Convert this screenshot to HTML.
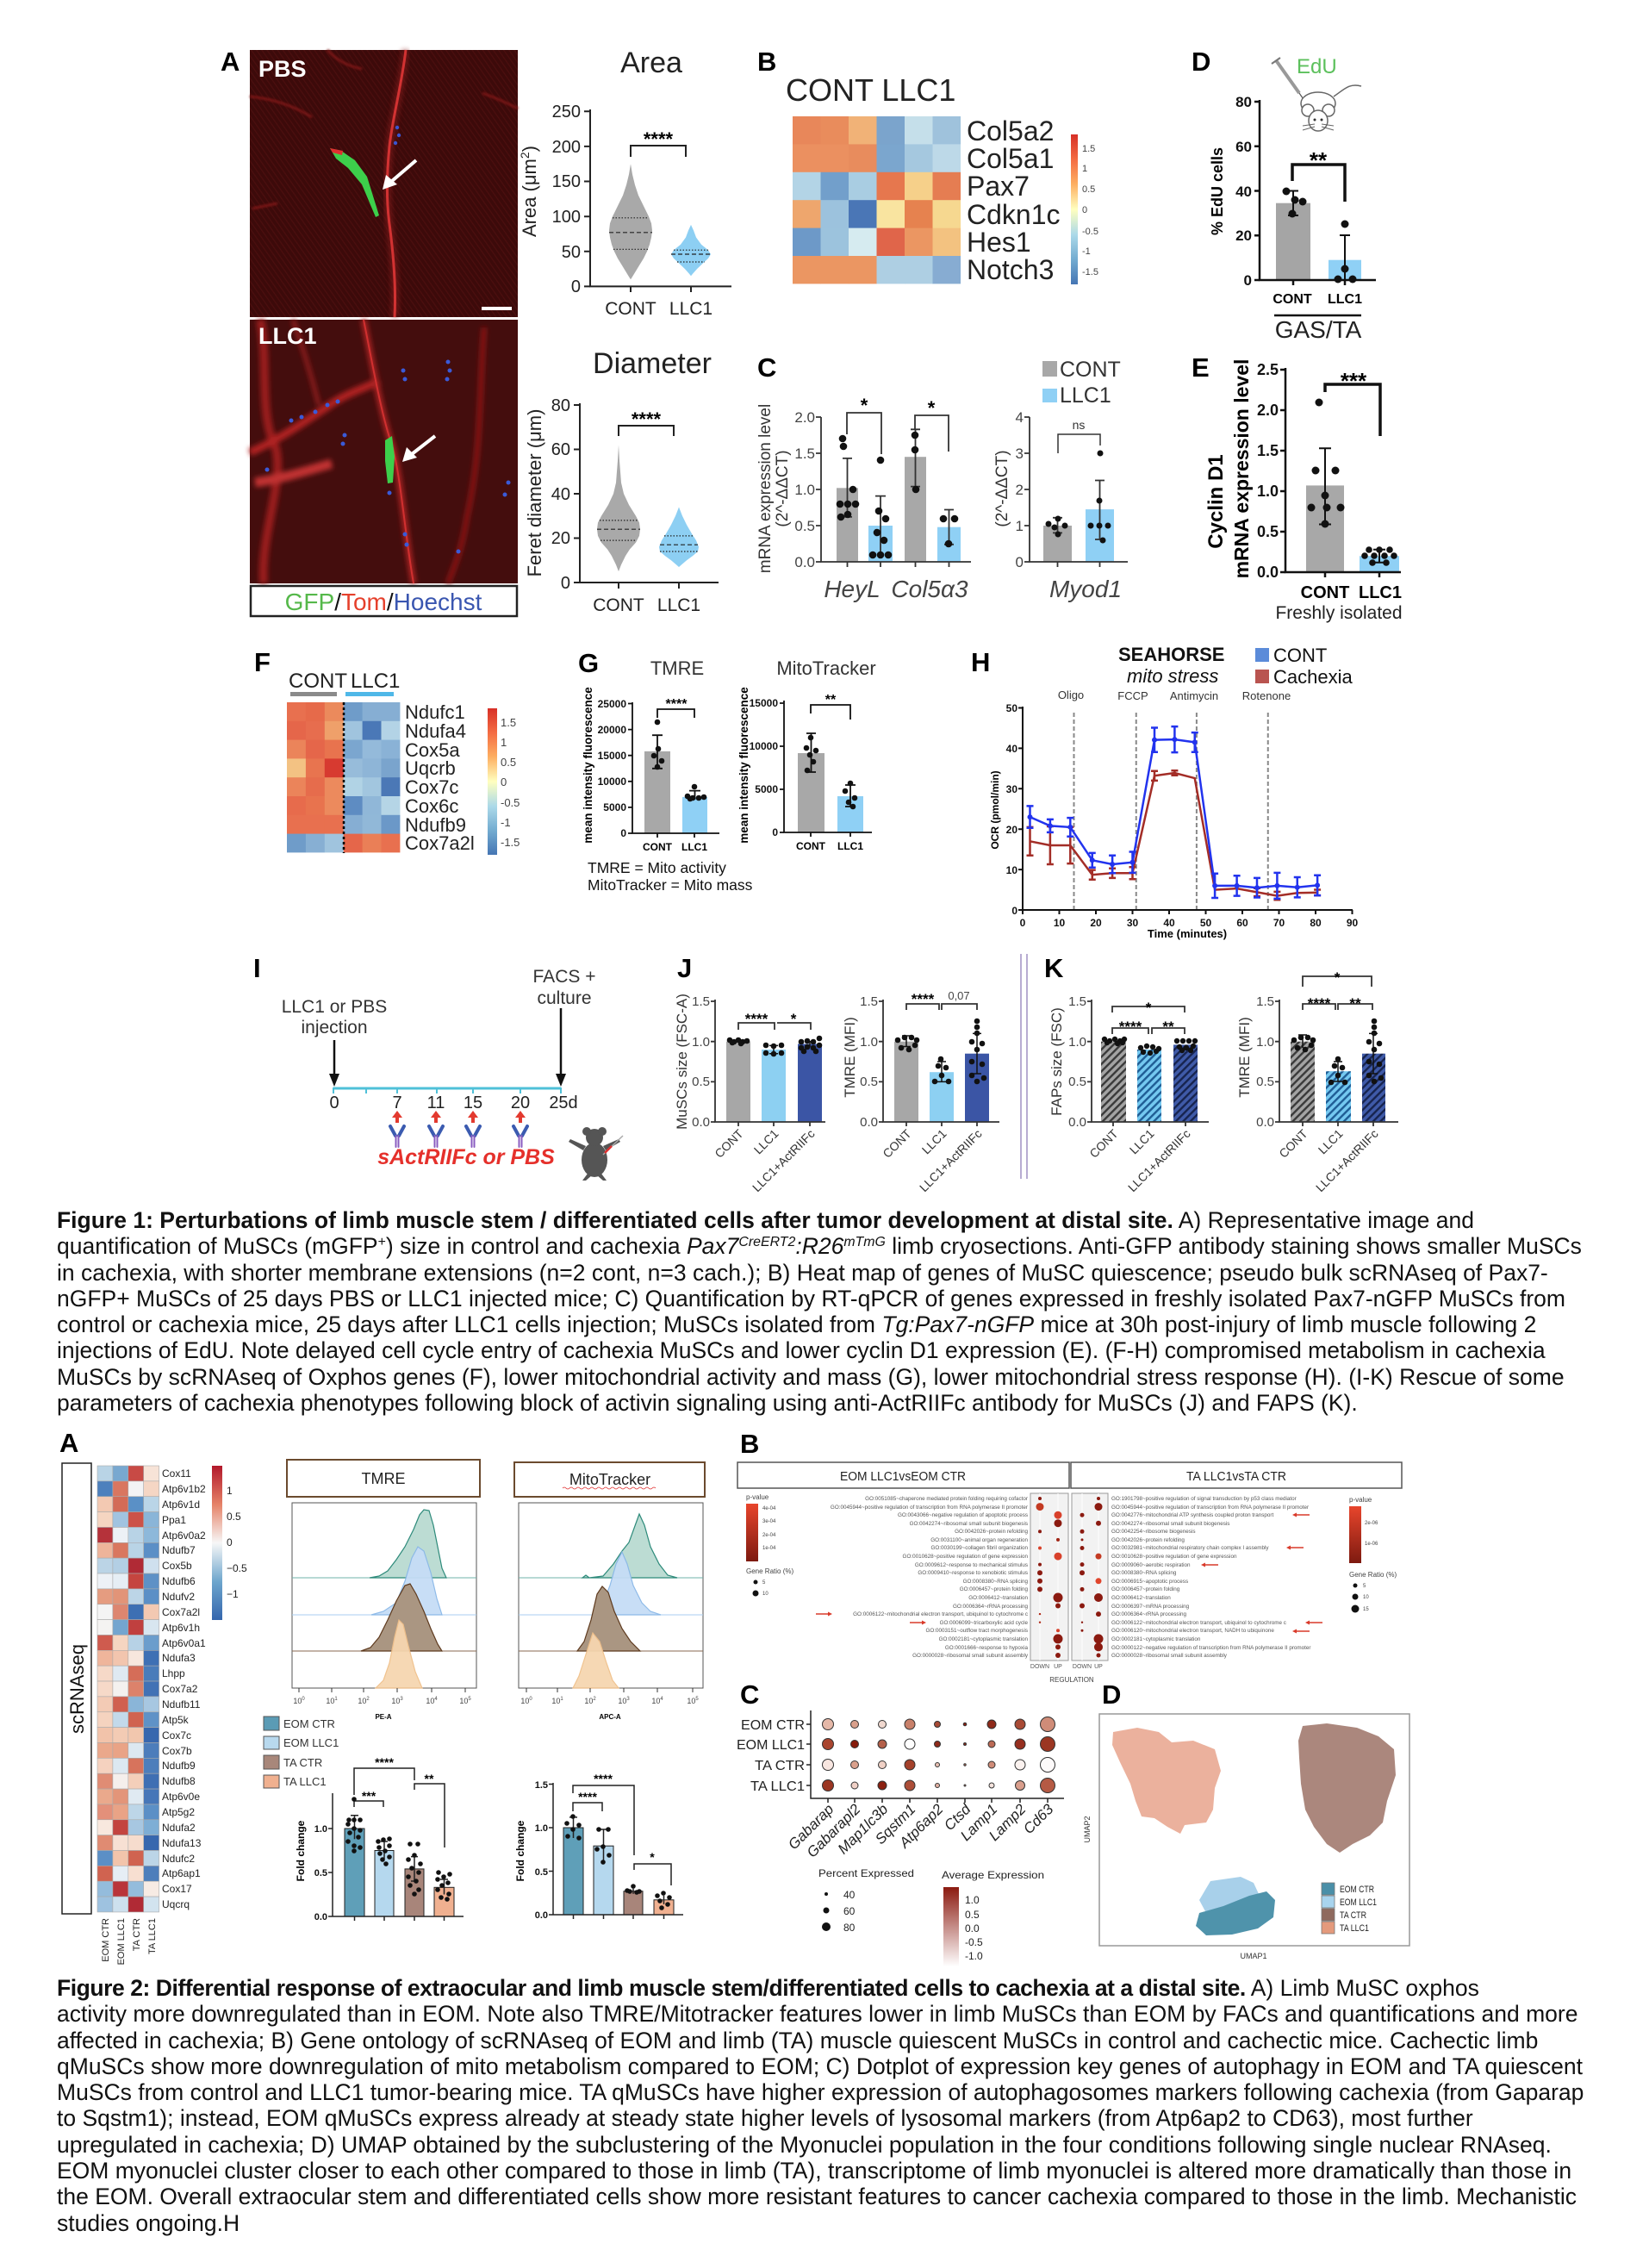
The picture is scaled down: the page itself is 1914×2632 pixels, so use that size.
<!DOCTYPE html>
<html><head><meta charset="utf-8">
<style>
html,body{margin:0;padding:0;background:#fff;}
#pg{position:relative;width:1914px;height:2632px;overflow:hidden;background:#fff;font-family:"Liberation Sans",Arial,sans-serif;}
svg{position:absolute;left:0;top:0;}
.cap{position:absolute;left:66px;font-size:26.5px;line-height:30.3px;color:#111;white-space:pre;font-family:"Liberation Sans",Arial,sans-serif;}
.sp{font-size:0.6em;position:relative;top:-0.6em;line-height:0;}
.b2{font-weight:bold;letter-spacing:-0.45px;}
</style></head><body><div id="pg">
<svg width="1914" height="2632" viewBox="0 0 1914 2632" font-family="Liberation Sans, Arial, sans-serif">
<defs>
<pattern id="stri" patternUnits="userSpaceOnUse" width="5" height="5" patternTransform="rotate(-35)"><rect width="5" height="5" fill="#3c0a0a"/><rect width="1.2" height="5" fill="#4c0f0f"/></pattern>
<filter id="bl" x="-20%" y="-20%" width="140%" height="140%"><feGaussianBlur stdDeviation="3"/></filter>
<filter id="bl2"><feGaussianBlur stdDeviation="1.2"/></filter>
<linearGradient id="cbB" x1="0" y1="0" x2="0" y2="1"><stop offset="0" stop-color="#d73027"/><stop offset="0.17" stop-color="#f46d43"/><stop offset="0.33" stop-color="#fdae61"/><stop offset="0.5" stop-color="#ffffbf"/><stop offset="0.67" stop-color="#abd9e9"/><stop offset="0.83" stop-color="#74add1"/><stop offset="1" stop-color="#4575b4"/></linearGradient>
<linearGradient id="cbA" x1="0" y1="0" x2="0" y2="1"><stop offset="0" stop-color="#b2182b"/><stop offset="0.25" stop-color="#e58267"/><stop offset="0.5" stop-color="#f7f7f7"/><stop offset="0.75" stop-color="#6ea6cd"/><stop offset="1" stop-color="#3466ad"/></linearGradient>
<linearGradient id="cbP" x1="0" y1="0" x2="0" y2="1"><stop offset="0" stop-color="#e8452c"/><stop offset="1" stop-color="#7d1a10"/></linearGradient>
<linearGradient id="cbC" x1="0" y1="0" x2="0" y2="1"><stop offset="0" stop-color="#8b1a10"/><stop offset="1" stop-color="#ffffff"/></linearGradient>
<pattern id="hg" patternUnits="userSpaceOnUse" width="6" height="6" patternTransform="rotate(45)"><rect width="6" height="6" fill="#a3a3a3"/><rect width="2.4" height="6" fill="#3a3a3a"/></pattern>
<pattern id="hl" patternUnits="userSpaceOnUse" width="6" height="6" patternTransform="rotate(45)"><rect width="6" height="6" fill="#74c8f0"/><rect width="2.4" height="6" fill="#1f5d95"/></pattern>
<pattern id="hd" patternUnits="userSpaceOnUse" width="6" height="6" patternTransform="rotate(45)"><rect width="6" height="6" fill="#3f5aa8"/><rect width="2.4" height="6" fill="#17244f"/></pattern>
</defs>

<!-- ================= FIGURE 1 ================= -->
<text x="256" y="82" font-size="31" font-weight="bold">A</text>
<rect x="290" y="58" width="311" height="310" fill="url(#stri)"/>
<path d="M471,58 C466,100 455,140 452,170 C449,200 448,230 452,260 C456,290 460,330 458,368" stroke="#8a1a1a" stroke-width="9" fill="none" opacity="0.6" filter="url(#bl)"/>
<path d="M471,58 C466,100 455,140 452,170 C449,200 448,230 452,260 C456,290 460,330 458,368" stroke="#d23232" stroke-width="3" fill="none"/>
<path d="M290,112 Q330,116 362,136 M560,108 Q582,116 601,126 M293,242 L322,236 M380,58 Q395,75 420,80" stroke="#7a1818" stroke-width="3" fill="none" filter="url(#bl2)"/>
<circle cx="461" cy="148" r="2.2" fill="#3a55d0"/><circle cx="463" cy="157" r="2.2" fill="#3a55d0"/><circle cx="459" cy="166" r="2.2" fill="#3a55d0"/>
<polygon points="383,172 396,175 412,186 426,205 440,250 436,252 420,214 404,195 390,184" fill="#3dcf4b"/>
<polygon points="383,172 398,175 397,180 386,177" fill="#e03030"/>
<line x1="483" y1="186" x2="455" y2="210" stroke="#fff" stroke-width="4"/>
<polygon points="444,220 448,203 461,214" fill="#fff"/>
<rect x="559" y="356" width="35" height="4" fill="#fff"/>
<text x="300" y="89" font-size="27" font-weight="bold" fill="#fff">PBS</text>

<rect x="290" y="371" width="311" height="306" fill="#440d0d"/>
<g filter="url(#bl)" fill="none">
<path d="M302,371 C312,420 300,480 320,520 C330,560 302,620 306,677" stroke="#9a1c1c" stroke-width="10"/>
<path d="M290,525 C320,512 350,492 380,472 C400,457 420,452 440,442" stroke="#b02424" stroke-width="9"/>
<path d="M422,371 C432,420 442,480 456,520 C466,560 470,620 480,677" stroke="#a82222" stroke-width="7"/>
<path d="M562,380 C556,450 560,520 542,600 C536,640 526,660 520,677" stroke="#8a1818" stroke-width="6"/>
<path d="M296,560 C330,555 360,545 385,538" stroke="#c03030" stroke-width="11"/>
<path d="M340,371 C350,400 360,430 370,470" stroke="#901c1c" stroke-width="5"/>
</g>
<path d="M422,371 C432,420 442,480 456,520 C466,560 470,620 480,677" stroke="#d03030" stroke-width="2" fill="none"/>
<g fill="#3a5ad8">
<circle cx="380" cy="470" r="2.5"/><circle cx="392" cy="466" r="2.5"/><circle cx="366" cy="478" r="2.5"/><circle cx="350" cy="484" r="2.5"/><circle cx="338" cy="488" r="2.5"/>
<circle cx="520" cy="420" r="2.5"/><circle cx="522" cy="430" r="2.5"/><circle cx="519" cy="440" r="2.5"/><circle cx="468" cy="430" r="2.5"/><circle cx="470" cy="440" r="2.5"/>
<circle cx="590" cy="560" r="2.5"/><circle cx="586" cy="574" r="2.5"/><circle cx="532" cy="640" r="2.5"/><circle cx="470" cy="620" r="2.5"/><circle cx="472" cy="632" r="2.5"/>
<circle cx="400" cy="505" r="2.5"/><circle cx="398" cy="515" r="2.5"/><circle cx="310" cy="545" r="2.5"/><circle cx="452" cy="572" r="2.5"/>
</g>
<polygon points="447,511 455,506 458,530 456,560 450,561 447,535" fill="#3dcf4b"/>
<line x1="505" y1="506" x2="478" y2="527" stroke="#fff" stroke-width="4"/>
<polygon points="467,536 472,519 484,531" fill="#fff"/>
<text x="300" y="399" font-size="27" font-weight="bold" fill="#fff">LLC1</text>
<rect x="291" y="680" width="309" height="35" fill="#fff" stroke="#222" stroke-width="2.5"/>
<text x="445" y="708" font-size="28" text-anchor="middle"><tspan fill="#55b84a">GFP</tspan><tspan fill="#111">/</tspan><tspan fill="#e5402c">Tom</tspan><tspan fill="#111">/</tspan><tspan fill="#3a56b0">Hoechst</tspan></text>

<!-- Area chart -->
<text x="756" y="84" font-size="34" text-anchor="middle" fill="#222">Area</text>
<g stroke="#222" stroke-width="2" fill="none">
<path d="M685,127 V332.4 H849"/>
<path d="M678,129.3 H685 M678,169.9 H685 M678,210.5 H685 M678,251.2 H685 M678,291.8 H685 M678,332.4 H685 M732,332 V339 M802,332 V339"/>
</g>
<g font-size="20" text-anchor="end" fill="#222">
<text x="674" y="136">250</text><text x="674" y="177">200</text><text x="674" y="217">150</text><text x="674" y="258">100</text><text x="674" y="299">50</text><text x="674" y="339">0</text>
</g>
<text x="732" y="365" font-size="21" text-anchor="middle" fill="#222">CONT</text>
<text x="802" y="365" font-size="21" text-anchor="middle" fill="#222">LLC1</text>
<text x="630" y="230" font-size="22" text-anchor="middle" fill="#222" transform="rotate(-90 622 230)">Area (μm<tspan font-size="14" dy="-8">2</tspan><tspan dy="8">)</tspan></text>
<path d="M732,182 V169 H796 V182" stroke="#222" stroke-width="2" fill="none"/>
<text x="764" y="169" font-size="22" font-weight="bold" text-anchor="middle">****</text>
<path d="M732,190.2 L734,202.4 L737,214.6 L741,226.8 L747,239 L753,251.2 L756,259.3 L757,267.4 L756,275.5 L754,283.7 L751,291.8 L747,299.9 L742,308 L737,316.2 L733,322.7 L732,324.3 L731,322.7 L727,316.2 L722,308 L717,299.9 L713,291.8 L710,283.7 L708,275.5 L707,267.4 L708,259.3 L711,251.2 L717,239 L723,226.8 L727,214.6 L730,202.4 Z" fill="#a9a9a9"/>
<path d="M802,260.9 L805,267.4 L808,275.5 L814,283.7 L822,290.2 L825,295 L822,299.9 L815,306.4 L809,312.1 L804,317.8 L802,320.2 L800,317.8 L795,312.1 L789,306.4 L782,299.9 L779,295 L782,290.2 L790,283.7 L796,275.5 L799,267.4 Z" fill="#8dcff3"/>
<g stroke="#222" stroke-width="1.2" fill="none">
<path d="M711,252.8 H753 M712,289.3 H752 M782,290.2 H822 M786,304 H818" stroke-dasharray="1.5,2"/>
<path d="M707,269.8 H757 M779,295 H825" stroke-dasharray="5,3"/>
</g>

<!-- Diameter chart -->
<text x="757" y="433" font-size="34" text-anchor="middle" fill="#222">Diameter</text>
<g stroke="#222" stroke-width="2" fill="none">
<path d="M673,468 V676 H834"/>
<path d="M666,470 H673 M666,521.5 H673 M666,573 H673 M666,624.5 H673 M666,676 H673 M718,676 V683 M788,676 V683"/>
</g>
<g font-size="20" text-anchor="end" fill="#222">
<text x="662" y="477">80</text><text x="662" y="528">60</text><text x="662" y="580">40</text><text x="662" y="631">20</text><text x="662" y="683">0</text>
</g>
<text x="718" y="709" font-size="21" text-anchor="middle" fill="#222">CONT</text>
<text x="788" y="709" font-size="21" text-anchor="middle" fill="#222">LLC1</text>
<text x="621" y="579" font-size="22" text-anchor="middle" fill="#222" transform="rotate(-90 621 572)">Feret diameter (μm)</text>
<path d="M718,506 V494 H782 V506" stroke="#222" stroke-width="2" fill="none"/>
<text x="750" y="494" font-size="22" font-weight="bold" text-anchor="middle">****</text>
<path d="M718,516.4 L719,534.4 L721,560.1 L724,573 L730,585.9 L738,598.75 L742,606.5 L743,614.2 L742,621.9 L738,629.65 L731,637.4 L726,645.1 L721,655.4 L718,663.1 L715,655.4 L710,645.1 L705,637.4 L698,629.65 L694,621.9 L693,614.2 L694,606.5 L698,598.75 L706,585.9 L712,573 L715,560.1 L717,534.4 Z" fill="#a9a9a9"/>
<path d="M788,588.45 L792,598.75 L797,609.05 L803,619.35 L808,627.1 L811,634.8 L810,640 L804,645.1 L797,650.25 L791,655.4 L788,658 L785,655.4 L779,650.25 L772,645.1 L766,640 L765,634.8 L768,627.1 L773,619.35 L779,609.05 L784,598.75 Z" fill="#8dcff3"/>
<g stroke="#222" stroke-width="1.2" fill="none">
<path d="M696,603.9 H740 M697,627.1 H739 M771,621.9 H805 M766,640 H810" stroke-dasharray="1.5,2"/>
<path d="M693,614.2 H743 M766,632.2 H810" stroke-dasharray="5,3"/>
</g>

<!-- Panel B heatmap -->
<text x="879" y="82" font-size="31" font-weight="bold">B</text>
<text x="912" y="117" font-size="36" fill="#222">CONT LLC1</text>
<g>
<rect x="920" y="135" width="33" height="33" fill="#e8875a"/><rect x="952.5" y="135" width="33" height="33" fill="#e98c5c"/><rect x="985" y="135" width="33" height="33" fill="#f1b277"/><rect x="1017.5" y="135" width="33" height="33" fill="#7ba4cc"/><rect x="1050" y="135" width="33" height="33" fill="#c5dfea"/><rect x="1082.5" y="135" width="32.5" height="33" fill="#9fc2dc"/>
<rect x="920" y="167.4" width="33" height="33" fill="#eb9060"/><rect x="952.5" y="167.4" width="33" height="33" fill="#eb9060"/><rect x="985" y="167.4" width="33" height="33" fill="#e88c5d"/><rect x="1017.5" y="167.4" width="33" height="33" fill="#7ba6ce"/><rect x="1050" y="167.4" width="33" height="33" fill="#a5c8df"/><rect x="1082.5" y="167.4" width="32.5" height="33" fill="#bdd9e8"/>
<rect x="920" y="199.8" width="33" height="33" fill="#b3d4e6"/><rect x="952.5" y="199.8" width="33" height="33" fill="#729fcb"/><rect x="985" y="199.8" width="33" height="33" fill="#a9cde2"/><rect x="1017.5" y="199.8" width="33" height="33" fill="#e6774e"/><rect x="1050" y="199.8" width="33" height="33" fill="#f6d08a"/><rect x="1082.5" y="199.8" width="32.5" height="33" fill="#e57d52"/>
<rect x="920" y="232.2" width="33" height="33" fill="#eea66d"/><rect x="952.5" y="232.2" width="33" height="33" fill="#9cc2dd"/><rect x="985" y="232.2" width="33" height="33" fill="#4a76b6"/><rect x="1017.5" y="232.2" width="33" height="33" fill="#f9e4a0"/><rect x="1050" y="232.2" width="33" height="33" fill="#e6824f"/><rect x="1082.5" y="232.2" width="32.5" height="33" fill="#f6d890"/>
<rect x="920" y="264.6" width="33" height="33" fill="#6d99c8"/><rect x="952.5" y="264.6" width="33" height="33" fill="#9cc3dd"/><rect x="985" y="264.6" width="33" height="33" fill="#d6ebf0"/><rect x="1017.5" y="264.6" width="33" height="33" fill="#e0654a"/><rect x="1050" y="264.6" width="33" height="33" fill="#eb9662"/><rect x="1082.5" y="264.6" width="32.5" height="33" fill="#f3c280"/>
<rect x="920" y="297" width="33" height="32.4" fill="#eb9662"/><rect x="952.5" y="297" width="33" height="32.4" fill="#eb9662"/><rect x="985" y="297" width="33" height="32.4" fill="#eb9662"/><rect x="1017.5" y="297" width="33" height="32.4" fill="#aecfe3"/><rect x="1050" y="297" width="33" height="32.4" fill="#aecfe3"/><rect x="1082.5" y="297" width="32.5" height="32.4" fill="#87acd2"/>
</g>
<g font-size="32" fill="#222">
<text x="1122" y="163">Col5a2</text><text x="1122" y="195">Col5a1</text><text x="1122" y="227">Pax7</text><text x="1122" y="260">Cdkn1c</text><text x="1122" y="292">Hes1</text><text x="1122" y="324">Notch3</text>
</g>
<rect x="1243" y="156" width="8" height="174" fill="url(#cbB)"/>
<g font-size="11" fill="#444">
<text x="1256" y="176">1.5</text><text x="1256" y="199">1</text><text x="1256" y="223">0.5</text><text x="1256" y="247">0</text><text x="1256" y="272">-0.5</text><text x="1256" y="295">-1</text><text x="1256" y="319">-1.5</text>
</g>

<!-- Panel D -->
<text x="1383" y="82" font-size="31" font-weight="bold">D</text>
<text x="1505" y="85" font-size="24" fill="#5cc05c">EdU</text>
<line x1="1481" y1="70" x2="1508" y2="108" stroke="#999" stroke-width="4"/>
<line x1="1508" y1="108" x2="1517" y2="121" stroke="#555" stroke-width="1.2"/>
<line x1="1476" y1="74" x2="1486" y2="67" stroke="#777" stroke-width="2"/>
<g stroke="#666" stroke-width="1.5" fill="#fff">
<path d="M1548,112 C1560,104 1566,96 1580,100" fill="none"/>
<ellipse cx="1530" cy="120" rx="20" ry="13"/>
<circle cx="1518" cy="128" r="7"/><circle cx="1542" cy="128" r="7"/>
<ellipse cx="1530" cy="140" rx="11" ry="12"/>
<path d="M1512,146 L1526,144 M1512,151 L1526,147 M1548,146 L1534,144 M1548,151 L1534,147" fill="none" stroke-width="1"/>
</g>
<circle cx="1526" cy="139" r="1.5" fill="#333"/><circle cx="1534" cy="139" r="1.5" fill="#333"/>
<rect x="1481" y="235.7" width="40" height="89.3" fill="#a5a5a5"/>
<rect x="1542" y="301.7" width="38" height="23.3" fill="#8fd0f5"/>
<g stroke="#111" stroke-width="2.5" fill="none">
<path d="M1462,116 V325 H1597"/>
<path d="M1456,118 H1462 M1456,169.75 H1462 M1456,221.5 H1462 M1456,273.25 H1462 M1456,325 H1462 M1501,325 V331 M1561,325 V331"/>
<path d="M1501,250 V221.5 M1495,221.5 H1507 M1495,250 H1507 M1561,325 V273 M1555,273 H1567" stroke-width="2"/>
<path d="M1500,210 V191 H1561 V234" stroke-width="3.5"/>
</g>
<g fill="#111"><circle cx="1493" cy="222" r="4.5"/><circle cx="1512" cy="234" r="4.5"/><circle cx="1500" cy="248" r="4.5"/><circle cx="1503" cy="232" r="4.5"/>
<circle cx="1561" cy="260" r="4.5"/><circle cx="1561" cy="312" r="4.5"/><circle cx="1553" cy="324" r="4.5"/><circle cx="1570" cy="324" r="4.5"/></g>
<g font-size="17" font-weight="bold" text-anchor="end" fill="#111">
<text x="1453" y="124">80</text><text x="1453" y="176">60</text><text x="1453" y="228">40</text><text x="1453" y="279">20</text><text x="1453" y="331">0</text>
</g>
<text x="1530" y="195" font-size="26" font-weight="bold" text-anchor="middle">**</text>
<text x="1413" y="228" font-size="18" font-weight="bold" text-anchor="middle" transform="rotate(-90 1413 222)">% EdU cells</text>
<text x="1500" y="352" font-size="16" font-weight="bold" text-anchor="middle">CONT</text>
<text x="1561" y="352" font-size="16" font-weight="bold" text-anchor="middle">LLC1</text>
<line x1="1479" y1="366" x2="1580" y2="366" stroke="#111" stroke-width="2.5"/>
<text x="1530" y="392" font-size="28" text-anchor="middle" fill="#222">GAS/TA</text>

<!-- Panel C -->
<text x="879" y="437" font-size="31" font-weight="bold">C</text>
<rect x="1210" y="419" width="17" height="18" fill="#a8a8a8"/>
<text x="1230" y="437" font-size="25" fill="#333">CONT</text>
<rect x="1210" y="451" width="17" height="16" fill="#8fd0f5"/>
<text x="1230" y="467" font-size="25" fill="#333">LLC1</text>
<rect x="971" y="566.3" width="25" height="85.7" fill="#a8a8a8"/>
<rect x="1008" y="610" width="28" height="42" fill="#8fd0f5"/>
<rect x="1050" y="530.2" width="25" height="121.8" fill="#a8a8a8"/>
<rect x="1088" y="611.7" width="27" height="40.3" fill="#8fd0f5"/>
<rect x="1211" y="610" width="33" height="42" fill="#a8a8a8"/>
<rect x="1260" y="591.1" width="33" height="60.9" fill="#8fd0f5"/>
<g stroke="#333" stroke-width="1.8" fill="none">
<path d="M953,484 V652 H1127 M1195,484 V652 H1309"/>
<path d="M947,484 H953 M947,526 H953 M947,568 H953 M947,610 H953 M947,652 H953 M983.5,652 V658 M1022,652 V658 M1062.5,652 V658 M1101.5,652 V658"/>
<path d="M1189,484 H1195 M1189,526 H1195 M1189,568 H1195 M1189,610 H1195 M1189,652 H1195 M1227.5,652 V658 M1276.5,652 V658"/>
<path d="M983.5,599.9 V531.9 M978,531.9 H989 M978,599.9 H989 M1022,643.6 V575.6 M1016,575.6 H1028 M1062.5,564.6 V498.3 M1057,498.3 H1068 M1057,564.6 H1068 M1101.5,631.8 V591.5 M1096,591.5 H1107 M1096,631.8 H1107"/>
<path d="M1227.5,618.4 V600.8 M1222,600.8 H1233 M1222,618.4 H1233 M1276.5,626 V557.5 M1271,557.5 H1282 M1271,626 H1282"/>
<path d="M983,504 V479 H1023 V527 M1062,498 V482 H1101 V524"/>
<path d="M1228,526 V504 H1277 V517" stroke-width="1.5"/>
</g>
<g fill="#111">
<circle cx="978" cy="509" r="4.3"/><circle cx="979" cy="518" r="4.3"/><circle cx="990" cy="568" r="4.3"/><circle cx="975" cy="585" r="4.3"/><circle cx="984" cy="585" r="4.3"/><circle cx="993" cy="585" r="4.3"/><circle cx="984" cy="597" r="4.3"/><circle cx="976" cy="600" r="4.3"/>
<circle cx="1022" cy="534" r="4.3"/><circle cx="1020" cy="593" r="4.3"/><circle cx="1028" cy="602" r="4.3"/><circle cx="1018" cy="618" r="4.3"/><circle cx="1026" cy="627" r="4.3"/><circle cx="1013" cy="644" r="4.3"/><circle cx="1022" cy="644" r="4.3"/><circle cx="1031" cy="644" r="4.3"/>
<circle cx="1062" cy="505" r="4.3"/><circle cx="1062" cy="522" r="4.3"/><circle cx="1063" cy="568" r="4.3"/>
<circle cx="1095" cy="602" r="4.3"/><circle cx="1108" cy="602" r="4.3"/><circle cx="1101" cy="631" r="4.3"/>
<circle cx="1228" cy="602" r="3.5"/><circle cx="1217" cy="608" r="3.5"/><circle cx="1236" cy="610" r="3.5"/><circle cx="1224" cy="612" r="3.5"/><circle cx="1228" cy="620" r="3.5"/>
<circle cx="1277" cy="526" r="3.5"/><circle cx="1276" cy="581" r="3.5"/><circle cx="1266" cy="610" r="3.5"/><circle cx="1276" cy="610" r="3.5"/><circle cx="1286" cy="610" r="3.5"/><circle cx="1280" cy="627" r="3.5"/>
</g>
<g font-size="17" text-anchor="end" fill="#444">
<text x="946" y="490">2.0</text><text x="946" y="532">1.5</text><text x="946" y="574">1.0</text><text x="946" y="616">0.5</text><text x="946" y="658">0.0</text>
<text x="1188" y="490">4</text><text x="1188" y="532">3</text><text x="1188" y="574">2</text><text x="1188" y="616">1</text><text x="1188" y="658">0</text>
</g>
<text x="1003" y="478" font-size="22" font-weight="bold" text-anchor="middle">*</text>
<text x="1081" y="481" font-size="22" font-weight="bold" text-anchor="middle">*</text>
<text x="1252" y="498" font-size="14" text-anchor="middle" fill="#333">ns</text>
<text x="887" y="574" font-size="19" text-anchor="middle" fill="#333" transform="rotate(-90 887 567)">mRNA  expression level</text>
<text x="907" y="574" font-size="19" text-anchor="middle" fill="#333" transform="rotate(-90 907 567)">(2^-ΔΔCT)</text>
<text x="1162" y="574" font-size="19" text-anchor="middle" fill="#333" transform="rotate(-90 1162 567)">(2^-ΔΔCT)</text>
<text x="989" y="693" font-size="28" font-style="italic" text-anchor="middle" fill="#444">HeyL</text>
<text x="1079" y="693" font-size="28" font-style="italic" text-anchor="middle" fill="#444">Col5α3</text>
<text x="1260" y="693" font-size="28" font-style="italic" text-anchor="middle" fill="#444">Myod1</text>

<!-- Panel E -->
<text x="1383" y="437" font-size="31" font-weight="bold">E</text>
<rect x="1516" y="563.4" width="44" height="100.6" fill="#a8a8a8"/>
<rect x="1578" y="645.2" width="46" height="18.8" fill="#8fd0f5"/>
<g stroke="#111" stroke-width="2.5" fill="none">
<path d="M1492,427 V664 H1626"/>
<path d="M1486,429 H1492 M1486,476 H1492 M1486,523 H1492 M1486,570 H1492 M1486,617 H1492 M1486,664 H1492 M1538,664 V670 M1601,664 V670"/>
<path d="M1538,608.5 V520.2 M1531,520.2 H1545 M1531,608.5 H1545 M1601,652.7 V637.7 M1594,637.7 H1608 M1594,652.7 H1608" stroke-width="2"/>
<path d="M1538,455 V446 H1602 V506" stroke-width="3.5"/>
</g>
<g fill="#111">
<circle cx="1531" cy="467" r="4.5"/><circle cx="1527" cy="546" r="4.5"/><circle cx="1550" cy="546" r="4.5"/><circle cx="1538" cy="575" r="4.5"/><circle cx="1522" cy="589" r="4.5"/><circle cx="1540" cy="589" r="4.5"/><circle cx="1556" cy="589" r="4.5"/><circle cx="1538" cy="608" r="4.5"/>
<circle cx="1589" cy="638" r="3.8"/><circle cx="1601" cy="638" r="3.8"/><circle cx="1613" cy="638" r="3.8"/><circle cx="1584" cy="645" r="3.8"/><circle cx="1595" cy="645" r="3.8"/><circle cx="1607" cy="645" r="3.8"/><circle cx="1618" cy="645" r="3.8"/><circle cx="1593" cy="653" r="3.8"/><circle cx="1609" cy="653" r="3.8"/>
</g>
<g font-size="18" font-weight="bold" text-anchor="end" fill="#111">
<text x="1484" y="435">2.5</text><text x="1484" y="482">2.0</text><text x="1484" y="529">1.5</text><text x="1484" y="576">1.0</text><text x="1484" y="623">0.5</text><text x="1484" y="670">0.0</text>
</g>
<text x="1571" y="451" font-size="26" font-weight="bold" text-anchor="middle">***</text>
<text x="1411" y="590" font-size="24" font-weight="bold" text-anchor="middle" transform="rotate(-90 1411 582)">Cyclin D1</text>
<text x="1441" y="552" font-size="23" font-weight="bold" text-anchor="middle" transform="rotate(-90 1441 544)">mRNA expression level</text>
<text x="1538" y="694" font-size="20" font-weight="bold" text-anchor="middle">CONT</text>
<text x="1602" y="694" font-size="20" font-weight="bold" text-anchor="middle">LLC1</text>
<text x="1554" y="718" font-size="21" text-anchor="middle" fill="#222">Freshly isolated</text>

<!-- Panel F -->
<text x="295" y="779" font-size="31" font-weight="bold">F</text>
<text x="335" y="798" font-size="24" fill="#222">CONT</text>
<text x="407" y="798" font-size="24" fill="#222">LLC1</text>
<rect x="337" y="803" width="54" height="5" fill="#8a8a8a"/>
<rect x="401" y="803" width="56" height="5" fill="#4fb8e8"/>
<g>
<rect x="333" y="815" width="22.3" height="22.2" fill="#e8704f"/><rect x="354.9" y="815" width="22.3" height="22.2" fill="#e66a4a"/><rect x="376.8" y="815" width="22.3" height="22.2" fill="#eb8a5c"/><rect x="398.7" y="815" width="22.3" height="22.2" fill="#6f9cc9"/><rect x="420.6" y="815" width="22.3" height="22.2" fill="#86aed3"/><rect x="442.5" y="815" width="21.9" height="22.2" fill="#86aed3"/>
<rect x="333" y="836.8" width="22.3" height="22.2" fill="#e5664a"/><rect x="354.9" y="836.8" width="22.3" height="22.2" fill="#e76d4e"/><rect x="376.8" y="836.8" width="22.3" height="22.2" fill="#efa06a"/><rect x="398.7" y="836.8" width="22.3" height="22.2" fill="#a0c4de"/><rect x="420.6" y="836.8" width="22.3" height="22.2" fill="#4a78b7"/><rect x="442.5" y="836.8" width="21.9" height="22.2" fill="#b3d3e6"/>
<rect x="333" y="858.6" width="22.3" height="22.2" fill="#eb845a"/><rect x="354.9" y="858.6" width="22.3" height="22.2" fill="#e5664a"/><rect x="376.8" y="858.6" width="22.3" height="22.2" fill="#e8734e"/><rect x="398.7" y="858.6" width="22.3" height="22.2" fill="#7ba6cf"/><rect x="420.6" y="858.6" width="22.3" height="22.2" fill="#94bada"/><rect x="442.5" y="858.6" width="21.9" height="22.2" fill="#8ab2d6"/>
<rect x="333" y="880.4" width="22.3" height="22.2" fill="#f3c283"/><rect x="354.9" y="880.4" width="22.3" height="22.2" fill="#e8744f"/><rect x="376.8" y="880.4" width="22.3" height="22.2" fill="#d73a30"/><rect x="398.7" y="880.4" width="22.3" height="22.2" fill="#97bcda"/><rect x="420.6" y="880.4" width="22.3" height="22.2" fill="#8eb5d7"/><rect x="442.5" y="880.4" width="21.9" height="22.2" fill="#7aa4cd"/>
<rect x="333" y="902.2" width="22.3" height="22.2" fill="#eb845a"/><rect x="354.9" y="902.2" width="22.3" height="22.2" fill="#e66c4c"/><rect x="376.8" y="902.2" width="22.3" height="22.2" fill="#ec8a5d"/><rect x="398.7" y="902.2" width="22.3" height="22.2" fill="#b1d3e5"/><rect x="420.6" y="902.2" width="22.3" height="22.2" fill="#a2c6df"/><rect x="442.5" y="902.2" width="21.9" height="22.2" fill="#4b78b6"/>
<rect x="333" y="924" width="22.3" height="22.2" fill="#e76b4c"/><rect x="354.9" y="924" width="22.3" height="22.2" fill="#e8734e"/><rect x="376.8" y="924" width="22.3" height="22.2" fill="#ec8a5d"/><rect x="398.7" y="924" width="22.3" height="22.2" fill="#5e8cc2"/><rect x="420.6" y="924" width="22.3" height="22.2" fill="#90b7d8"/><rect x="442.5" y="924" width="21.9" height="22.2" fill="#b5d5e6"/>
<rect x="333" y="945.8" width="22.3" height="22.2" fill="#e8704f"/><rect x="354.9" y="945.8" width="22.3" height="22.2" fill="#e8704f"/><rect x="376.8" y="945.8" width="22.3" height="22.2" fill="#e8704f"/><rect x="398.7" y="945.8" width="22.3" height="22.2" fill="#86aed3"/><rect x="420.6" y="945.8" width="22.3" height="22.2" fill="#91b8d8"/><rect x="442.5" y="945.8" width="21.9" height="22.2" fill="#6b98c8"/>
<rect x="333" y="967.6" width="22.3" height="21.8" fill="#6f9cc9"/><rect x="354.9" y="967.6" width="22.3" height="21.8" fill="#87afd3"/><rect x="376.8" y="967.6" width="22.3" height="21.8" fill="#a0c4de"/><rect x="398.7" y="967.6" width="22.3" height="21.8" fill="#e5664a"/><rect x="420.6" y="967.6" width="22.3" height="21.8" fill="#ea7f57"/><rect x="442.5" y="967.6" width="21.9" height="21.8" fill="#e8704f"/>
</g>
<line x1="399" y1="815" x2="399" y2="990" stroke="#000" stroke-width="2.5" stroke-dasharray="3,3"/>
<g font-size="22" fill="#222">
<text x="470" y="834">Ndufc1</text><text x="470" y="856">Ndufa4</text><text x="470" y="878">Cox5a</text><text x="470" y="899">Uqcrb</text><text x="470" y="921">Cox7c</text><text x="470" y="943">Cox6c</text><text x="470" y="965">Ndufb9</text><text x="470" y="986">Cox7a2l</text>
</g>
<rect x="566" y="822" width="11" height="170" fill="url(#cbB)"/>
<g font-size="13" fill="#444">
<text x="581" y="843">1.5</text><text x="581" y="866">1</text><text x="581" y="889">0.5</text><text x="581" y="912">0</text><text x="581" y="936">-0.5</text><text x="581" y="959">-1</text><text x="581" y="982">-1.5</text>
</g>

<!-- Panel G -->
<text x="671" y="780" font-size="31" font-weight="bold">G</text>
<text x="786" y="783" font-size="22" text-anchor="middle" fill="#333">TMRE</text>
<text x="959" y="783" font-size="22" text-anchor="middle" fill="#333">MitoTracker</text>
<rect x="748" y="871.9" width="30" height="95.1" fill="#a8a8a8"/>
<rect x="792" y="924.9" width="29" height="42.1" fill="#8fd0f5"/>
<rect x="926" y="874" width="31" height="92" fill="#a8a8a8"/>
<rect x="972" y="924" width="30" height="42" fill="#8fd0f5"/>
<g stroke="#111" stroke-width="1.8" fill="none">
<path d="M734,815 V967 H835 M910,813 V966 H1012"/>
<path d="M729,816.5 H734 M729,846.6 H734 M729,876.7 H734 M729,906.8 H734 M729,936.9 H734 M729,967 H734 M763,967 V972 M806,967 V972"/>
<path d="M905,816 H910 M905,866 H910 M905,916 H910 M905,966 H910 M941,966 V971 M987,966 V971"/>
<path d="M763,891.8 V853.2 M757,853.2 H769 M757,891.8 H769 M806.5,927.9 V917.6 M800,917.6 H813"/>
<path d="M941.5,896 V851 M936,851 H947 M936,896 H947 M987,936 V911 M981,911 H993 M981,936 H993"/>
<path d="M763,833 V823 H806 V833 M941,828 V818 H987 V835"/>
</g>
<g fill="#111">
<circle cx="763" cy="838" r="3.3"/><circle cx="764" cy="869" r="3.3"/><circle cx="759" cy="877" r="3.3"/><circle cx="768" cy="883" r="3.3"/><circle cx="763" cy="890" r="3.3"/>
<circle cx="806" cy="913" r="3.3"/><circle cx="798" cy="924" r="3.3"/><circle cx="804" cy="926" r="3.3"/><circle cx="811" cy="926" r="3.3"/><circle cx="817" cy="925" r="3.3"/><circle cx="801" cy="927" r="3.3"/>
<circle cx="941" cy="856" r="3.3"/><circle cx="936" cy="868" r="3.3"/><circle cx="947" cy="871" r="3.3"/><circle cx="940" cy="876" r="3.3"/><circle cx="944" cy="884" r="3.3"/><circle cx="937" cy="894" r="3.3"/>
<circle cx="987" cy="909" r="3.3"/><circle cx="981" cy="918" r="3.3"/><circle cx="992" cy="926" r="3.3"/><circle cx="985" cy="931" r="3.3"/><circle cx="990" cy="936" r="3.3"/>
</g>
<g font-size="12" font-weight="bold" text-anchor="end" fill="#111">
<text x="727" y="821">25000</text><text x="727" y="851">20000</text><text x="727" y="881">15000</text><text x="727" y="911">10000</text><text x="727" y="941">5000</text><text x="727" y="971">0</text>
<text x="903" y="820">15000</text><text x="903" y="870">10000</text><text x="903" y="920">5000</text><text x="903" y="970">0</text>
</g>
<text x="785" y="822" font-size="16" font-weight="bold" text-anchor="middle">****</text>
<text x="964" y="817" font-size="16" font-weight="bold" text-anchor="middle">**</text>
<text x="682" y="893" font-size="13.5" font-weight="bold" text-anchor="middle" transform="rotate(-90 682 888)">mean intensity fluorescence</text>
<text x="863" y="893" font-size="13.5" font-weight="bold" text-anchor="middle" transform="rotate(-90 863 888)">mean intensity fluorescence</text>
<g font-size="12" font-weight="bold" text-anchor="middle"><text x="763" y="987">CONT</text><text x="806" y="987">LLC1</text><text x="941" y="986">CONT</text><text x="987" y="986">LLC1</text></g>
<text x="682" y="1013" font-size="17.5" fill="#111">TMRE = Mito activity</text>
<text x="682" y="1033" font-size="17.5" fill="#111">MitoTracker = Mito mass</text>

<!-- Panel H -->
<text x="1127" y="779" font-size="31" font-weight="bold">H</text>
<text x="1298" y="767" font-size="22" font-weight="bold" fill="#111">SEAHORSE</text>
<text x="1308" y="792" font-size="22" font-style="italic" fill="#111">mito stress</text>
<rect x="1457" y="752" width="16" height="16" fill="#5b8bd9"/>
<text x="1478" y="768" font-size="22" fill="#111">CONT</text>
<rect x="1457" y="777" width="16" height="16" fill="#b95450"/>
<text x="1478" y="793" font-size="22" fill="#111">Cachexia</text>
<g font-size="13" text-anchor="middle" fill="#333">
<text x="1243" y="811">Oligo</text><text x="1315" y="812">FCCP</text><text x="1386" y="812">Antimycin</text><text x="1470" y="812">Rotenone</text>
</g>
<g stroke="#888" stroke-width="2" stroke-dasharray="5,3">
<line x1="1246.5" y1="827" x2="1246.5" y2="1056"/><line x1="1318.75" y1="827" x2="1318.75" y2="1056"/><line x1="1388.9" y1="827" x2="1388.9" y2="1056"/><line x1="1471.75" y1="827" x2="1471.75" y2="1056"/>
</g>
<g stroke="#111" stroke-width="2" fill="none">
<path d="M1187,820 V1056 H1570"/>
<path d="M1182,821.5 H1187 M1182,868.4 H1187 M1182,915.3 H1187 M1182,962.2 H1187 M1182,1009.1 H1187 M1182,1056 H1187"/>
<path d="M1187,1056 V1061 M1229.5,1056 V1061 M1272,1056 V1061 M1314.5,1056 V1061 M1357,1056 V1061 M1399.5,1056 V1061 M1442,1056 V1061 M1484.5,1056 V1061 M1527,1056 V1061 M1569.5,1056 V1061"/>
</g>
<g font-size="12" font-weight="bold" text-anchor="end" fill="#111">
<text x="1181" y="826">50</text><text x="1181" y="873">40</text><text x="1181" y="920">30</text><text x="1181" y="967">20</text><text x="1181" y="1014">10</text><text x="1181" y="1061">0</text>
</g>
<g font-size="12" font-weight="bold" text-anchor="middle" fill="#111">
<text x="1187" y="1075">0</text><text x="1229.5" y="1075">10</text><text x="1272" y="1075">20</text><text x="1314.5" y="1075">30</text><text x="1357" y="1075">40</text><text x="1399.5" y="1075">50</text><text x="1442" y="1075">60</text><text x="1484.5" y="1075">70</text><text x="1527" y="1075">80</text><text x="1569.5" y="1075">90</text>
</g>
<text x="1378" y="1088" font-size="13" font-weight="bold" text-anchor="middle">Time (minutes)</text>
<text x="1155" y="944" font-size="12" font-weight="bold" text-anchor="middle" transform="rotate(-90 1155 940)">OCR (pmol/min)</text>
<g stroke="#a32d27" stroke-width="2.5" fill="none">
<polyline points="1195.5,976.3 1218.9,981 1242.3,981 1267.75,1015.2 1291.1,1013.3 1314.5,1013.3 1340,900.3 1363.4,897 1386.75,903.1 1410.1,1032.6 1435.6,1031.1 1459,1035.4 1482.4,1039.6 1505.75,1036.3 1529.1,1035.8"/>
<path d="M1195.5,959.9 V992.7 M1191.5,959.9 H1199.5 M1191.5,992.7 H1199.5 M1218.9,959 V1003 M1214.9,959 H1222.9 M1214.9,1003 H1222.9 M1242.3,959.9 V1002.1 M1238.3,959.9 H1246.3 M1238.3,1002.1 H1246.3 M1267.75,1009.6 V1020.8 M1263.75,1009.6 H1271.75 M1263.75,1020.8 H1271.75 M1291.1,1007.7 V1018.9 M1287.1,1007.7 H1295.1 M1287.1,1018.9 H1295.1 M1314.5,1006.3 V1020.3 M1310.5,1006.3 H1318.5 M1310.5,1020.3 H1318.5 M1340,894.7 V905.9 M1336,894.7 H1344 M1336,905.9 H1344 M1363.4,894.2 V899.8 M1359.4,894.2 H1367.4 M1359.4,899.8 H1367.4 M1459,1030.7 V1040.1 M1455,1030.7 H1463 M1455,1040.1 H1463 M1482.4,1034.9 V1044.3 M1478.4,1034.9 H1486.4 M1478.4,1044.3 H1486.4 M1529.1,1032.5 V1039.1 M1525.1,1032.5 H1533.1 M1525.1,1039.1 H1533.1"/>
</g>
<g stroke="#2233ee" stroke-width="2.5" fill="none">
<polyline points="1195.5,948.1 1218.9,958.4 1242.3,959.9 1267.75,998.3 1291.1,1003 1314.5,1000.7 1340,858.6 1363.4,858.1 1386.75,861.4 1410.1,1027.9 1435.6,1027.9 1459,1030.2 1482.4,1027.9 1505.75,1029.7 1529.1,1027.4"/>
<path d="M1195.5,935.4 V960.8 M1191.5,935.4 H1199.5 M1191.5,960.8 H1199.5 M1218.9,950.9 V965.9 M1214.9,950.9 H1222.9 M1214.9,965.9 H1222.9 M1242.3,949.1 V970.7 M1238.3,949.1 H1246.3 M1238.3,970.7 H1246.3 M1267.75,989.9 V1006.7 M1263.75,989.9 H1271.75 M1263.75,1006.7 H1271.75 M1291.1,992.7 V1013.3 M1287.1,992.7 H1295.1 M1287.1,1013.3 H1295.1 M1314.5,988.5 V1012.9 M1310.5,988.5 H1318.5 M1310.5,1012.9 H1318.5 M1340,844.5 V872.7 M1336,844.5 H1344 M1336,872.7 H1344 M1363.4,843.1 V873.1 M1359.4,843.1 H1367.4 M1359.4,873.1 H1367.4 M1386.75,850.1 V872.7 M1382.75,850.1 H1390.75 M1382.75,872.7 H1390.75 M1410.1,1013.8 V1042 M1406.1,1013.8 H1414.1 M1406.1,1042 H1414.1 M1435.6,1016.2 V1039.6 M1431.6,1016.2 H1439.6 M1431.6,1039.6 H1439.6 M1459,1018.9 V1041.5 M1455,1018.9 H1463 M1455,1041.5 H1463 M1482.4,1012.9 V1042.9 M1478.4,1012.9 H1486.4 M1478.4,1042.9 H1486.4 M1505.75,1018 V1041.4 M1501.75,1018 H1509.75 M1501.75,1041.4 H1509.75 M1529.1,1015.7 V1039.1 M1525.1,1015.7 H1533.1 M1525.1,1039.1 H1533.1"/>
</g>
<g fill="#2233ee"><circle cx="1195.5" cy="948.1" r="3"/><circle cx="1218.9" cy="958.4" r="3"/><circle cx="1242.3" cy="959.9" r="3"/><circle cx="1267.75" cy="998.3" r="3"/><circle cx="1291.1" cy="1003" r="3"/><circle cx="1314.5" cy="1000.7" r="3"/><circle cx="1340" cy="858.6" r="3"/><circle cx="1363.4" cy="858.1" r="3"/><circle cx="1386.75" cy="861.4" r="3"/><circle cx="1410.1" cy="1027.9" r="3"/><circle cx="1435.6" cy="1027.9" r="3"/><circle cx="1459" cy="1030.2" r="3"/><circle cx="1482.4" cy="1027.9" r="3"/><circle cx="1505.75" cy="1029.7" r="3"/><circle cx="1529.1" cy="1027.4" r="3"/></g>

<!-- Panel I -->
<text x="294" y="1134" font-size="31" font-weight="bold">I</text>
<g font-size="21" text-anchor="middle" fill="#333">
<text x="388" y="1175">LLC1 or PBS</text><text x="388" y="1199">injection</text>
<text x="655" y="1140">FACS +</text><text x="655" y="1165">culture</text>
</g>
<g stroke="#111" stroke-width="2.5"><line x1="388" y1="1207" x2="388" y2="1250"/><line x1="651" y1="1170" x2="651" y2="1250"/></g>
<polygon points="382,1246 394,1246 388,1261" fill="#111"/>
<polygon points="645,1246 657,1246 651,1261" fill="#111"/>
<g stroke="#4fc0d8" stroke-width="3"><line x1="387" y1="1263" x2="651" y2="1263"/>
<path d="M387,1262 V1269 M425,1262 V1269 M461,1262 V1269 M507,1262 V1269 M549,1262 V1269 M604,1262 V1269 M651,1262 V1269" stroke-width="2"/></g>
<g font-size="20" text-anchor="middle" fill="#222">
<text x="388" y="1286">0</text><text x="461" y="1286">7</text><text x="506" y="1286">11</text><text x="549" y="1286">15</text><text x="604" y="1286">20</text><text x="654" y="1286">25d</text>
</g>
<g fill="#e33a2f">
<polygon points="461,1289 455,1297 459,1297 459,1303 463,1303 463,1297 467,1297"/>
<polygon points="506,1289 500,1297 504,1297 504,1303 508,1303 508,1297 512,1297"/>
<polygon points="549,1289 543,1297 547,1297 547,1303 551,1303 551,1297 555,1297"/>
<polygon points="604,1289 598,1297 602,1297 602,1303 606,1303 606,1297 610,1297"/>
</g>
<g stroke-linecap="round">
<g stroke="#3b5bb0" stroke-width="4"><path d="M453,1307 L459,1318 M469,1307 L463,1318 M498,1307 L504,1318 M514,1307 L508,1318 M541,1307 L547,1318 M557,1307 L551,1318 M596,1307 L602,1318 M612,1307 L606,1318"/></g>
<g stroke="#8a5cc0" stroke-width="2"><path d="M459.5,1318 V1331 M462.5,1318 V1331 M504.5,1318 V1331 M507.5,1318 V1331 M547.5,1318 V1331 M550.5,1318 V1331 M602.5,1318 V1331 M605.5,1318 V1331"/></g>
</g>
<text x="541" y="1351" font-size="25" font-weight="bold" font-style="italic" text-anchor="middle" fill="#e5302b">sActRIIFc or PBS</text>
<g fill="#555">
<ellipse cx="690" cy="1346" rx="15" ry="20"/><circle cx="690" cy="1320" r="10"/><circle cx="681" cy="1313" r="5"/><circle cx="699" cy="1313" r="5"/>
<path d="M677,1335 L660,1325 L662,1322 L680,1330 Z M703,1335 L720,1325 L718,1322 L700,1330 Z"/>
<path d="M682,1362 L676,1370 L680,1370 L687,1364 Z M698,1362 L704,1370 L700,1370 L693,1364 Z"/>
</g>
<line x1="700" y1="1340" x2="723" y2="1318" stroke="#aaa" stroke-width="1.5"/>
<line x1="702" y1="1338" x2="710" y2="1330" stroke="#e03030" stroke-width="2.5"/>

<!-- Panel J -->
<text x="786" y="1134" font-size="31" font-weight="bold">J</text>
<rect x="843" y="1208.7" width="28" height="93.3" fill="#a7a7a7"/>
<rect x="884" y="1218" width="28" height="84" fill="#8dd0f2"/>
<rect x="926" y="1211.5" width="28" height="90.5" fill="#3b55a5"/>
<rect x="1038" y="1208.7" width="28" height="93.3" fill="#a7a7a7"/>
<rect x="1079" y="1244.2" width="28" height="57.8" fill="#8dd0f2"/>
<rect x="1120" y="1222.7" width="28" height="79.3" fill="#3b55a5"/>
<g stroke="#333" stroke-width="1.8" fill="none">
<path d="M830,1160 V1302 H958 M1025,1160 V1302 H1160"/>
<path d="M825,1162 H830 M825,1208.7 H830 M825,1255.4 H830 M825,1302 H830 M857,1302 V1307 M898,1302 V1307 M940,1302 V1307"/>
<path d="M1020,1162 H1025 M1020,1208.7 H1025 M1020,1255.4 H1025 M1020,1302 H1025 M1052,1302 V1307 M1093,1302 V1307 M1134,1302 V1307"/>
<path d="M857,1195 V1187 H899 V1195 M902,1187 H941 V1195"/>
<path d="M1052,1172 V1165 H1090 V1172 M1093,1172 V1165 H1134 V1172"/>
</g>
<g stroke="#111" stroke-width="1.5" fill="none">
<path d="M898,1213.4 V1222.7 M893,1213.4 H903 M893,1222.7 H903 M940,1215.2 V1208.7 M935,1208.7 H945"/>
<path d="M1052,1214.5 V1202 M1047,1202 H1057 M1047,1214.5 H1057 M1093,1255.4 V1232 M1088,1232 H1098 M1088,1255.4 H1098 M1134,1246 V1199.4 M1129,1199.4 H1139 M1129,1246 H1139"/>
</g>
<g fill="#111">
<circle cx="847" cy="1207" r="3.3"/><circle cx="852" cy="1209" r="3.3"/><circle cx="857" cy="1207" r="3.3"/><circle cx="862" cy="1209" r="3.3"/><circle cx="867" cy="1208" r="3.3"/><circle cx="850" cy="1210" r="3.3"/><circle cx="860" cy="1211" r="3.3"/>
<circle cx="889" cy="1213" r="3.3"/><circle cx="898" cy="1214" r="3.3"/><circle cx="907" cy="1213" r="3.3"/><circle cx="889" cy="1222" r="3.3"/><circle cx="898" cy="1223" r="3.3"/><circle cx="907" cy="1222" r="3.3"/>
<circle cx="930" cy="1209" r="3.3"/><circle cx="937" cy="1208" r="3.3"/><circle cx="944" cy="1209" r="3.3"/><circle cx="951" cy="1205" r="3.3"/><circle cx="930" cy="1216" r="3.3"/><circle cx="937" cy="1215" r="3.3"/><circle cx="944" cy="1216" r="3.3"/><circle cx="951" cy="1213" r="3.3"/><circle cx="933" cy="1220" r="3.3"/><circle cx="947" cy="1220" r="3.3"/>
<circle cx="1042" cy="1207" r="3.3"/><circle cx="1050" cy="1204" r="3.3"/><circle cx="1058" cy="1204" r="3.3"/><circle cx="1064" cy="1207" r="3.3"/><circle cx="1046" cy="1216" r="3.3"/><circle cx="1055" cy="1218" r="3.3"/><circle cx="1062" cy="1213" r="3.3"/>
<circle cx="1092" cy="1229" r="3.3"/><circle cx="1089" cy="1237" r="3.3"/><circle cx="1098" cy="1239" r="3.3"/><circle cx="1093" cy="1248" r="3.3"/><circle cx="1085" cy="1255" r="3.3"/><circle cx="1101" cy="1255" r="3.3"/>
<circle cx="1134" cy="1185" r="3.3"/><circle cx="1134" cy="1192" r="3.3"/><circle cx="1134" cy="1199" r="3.3"/><circle cx="1128" cy="1209" r="3.3"/><circle cx="1140" cy="1211" r="3.3"/><circle cx="1134" cy="1218" r="3.3"/><circle cx="1128" cy="1232" r="3.3"/><circle cx="1140" cy="1235" r="3.3"/><circle cx="1128" cy="1248" r="3.3"/><circle cx="1134" cy="1255" r="3.3"/><circle cx="1142" cy="1251" r="3.3"/>
</g>
<g font-size="15" text-anchor="end" fill="#444">
<text x="824" y="1167">1.5</text><text x="824" y="1214">1.0</text><text x="824" y="1260">0.5</text><text x="824" y="1307">0.0</text>
<text x="1019" y="1167">1.5</text><text x="1019" y="1214">1.0</text><text x="1019" y="1260">0.5</text><text x="1019" y="1307">0.0</text>
</g>
<text x="878" y="1188" font-size="17" font-weight="bold" text-anchor="middle">****</text>
<text x="921" y="1188" font-size="17" font-weight="bold" text-anchor="middle">*</text>
<text x="1071" y="1165" font-size="17" font-weight="bold" text-anchor="middle">****</text>
<text x="1113" y="1160" font-size="13" text-anchor="middle" fill="#444">0,07</text>
<text x="791" y="1238" font-size="17" text-anchor="middle" fill="#333" transform="rotate(-90 791 1232)">MuSCs size (FSC-A)</text>
<text x="986" y="1233" font-size="17" text-anchor="middle" fill="#333" transform="rotate(-90 986 1227)">TMRE (MFI)</text>
<g font-size="14" text-anchor="end" fill="#333">
<text x="860" y="1318" transform="rotate(-45 860 1313)">CONT</text><text x="901" y="1318" transform="rotate(-45 901 1313)">LLC1</text><text x="943" y="1318" transform="rotate(-45 943 1313)">LLC1+ActRIIFc</text>
<text x="1055" y="1318" transform="rotate(-45 1055 1313)">CONT</text><text x="1096" y="1318" transform="rotate(-45 1096 1313)">LLC1</text><text x="1137" y="1318" transform="rotate(-45 1137 1313)">LLC1+ActRIIFc</text>
</g>
<g stroke="#b8acd2" stroke-width="2"><line x1="1185" y1="1107" x2="1185" y2="1368"/><line x1="1192" y1="1107" x2="1192" y2="1368"/></g>

<!-- Panel K -->
<text x="1212" y="1134" font-size="31" font-weight="bold">K</text>
<rect x="1278" y="1208.7" width="29" height="93.3" fill="url(#hg)"/>
<rect x="1320" y="1218" width="28" height="84" fill="url(#hl)"/>
<rect x="1362" y="1212.4" width="28" height="89.6" fill="url(#hd)"/>
<rect x="1498" y="1208.7" width="28" height="93.3" fill="url(#hg)"/>
<rect x="1539" y="1243.2" width="29" height="58.8" fill="url(#hl)"/>
<rect x="1581" y="1222.7" width="27" height="79.3" fill="url(#hd)"/>
<g stroke="#333" stroke-width="1.8" fill="none">
<path d="M1267,1160 V1302 H1403 M1485,1160 V1302 H1623"/>
<path d="M1262,1162 H1267 M1262,1208.7 H1267 M1262,1255.4 H1267 M1262,1302 H1267 M1292,1302 V1307 M1334,1302 V1307 M1376,1302 V1307"/>
<path d="M1480,1162 H1485 M1480,1208.7 H1485 M1480,1255.4 H1485 M1480,1302 H1485 M1512,1302 V1307 M1553,1302 V1307 M1594,1302 V1307"/>
<path d="M1291,1175 V1168 H1375 V1175 M1291,1200 V1193 H1333 V1200 M1337,1200 V1193 H1375 V1200"/>
<path d="M1512,1145 V1133 H1592 V1145 M1512,1172 V1165 H1550 V1172 M1553,1172 V1165 H1593 V1172"/>
</g>
<g stroke="#111" stroke-width="1.5" fill="none">
<path d="M1512,1216 V1201 M1507,1201 H1517 M1553,1255 V1232 M1548,1232 H1558 M1548,1255 H1558 M1594,1246 V1199.4 M1589,1199.4 H1599 M1589,1246 H1599"/>
</g>
<g fill="#111">
<circle cx="1282" cy="1206" r="3.2"/><circle cx="1288" cy="1208" r="3.2"/><circle cx="1294" cy="1206" r="3.2"/><circle cx="1300" cy="1208" r="3.2"/><circle cx="1305" cy="1206" r="3.2"/><circle cx="1285" cy="1210" r="3.2"/><circle cx="1297" cy="1211" r="3.2"/><circle cx="1303" cy="1210" r="3.2"/>
<circle cx="1324" cy="1216" r="3.2"/><circle cx="1331" cy="1214" r="3.2"/><circle cx="1338" cy="1215" r="3.2"/><circle cx="1345" cy="1217" r="3.2"/><circle cx="1327" cy="1221" r="3.2"/><circle cx="1335" cy="1222" r="3.2"/><circle cx="1342" cy="1220" r="3.2"/>
<circle cx="1366" cy="1208" r="3.2"/><circle cx="1373" cy="1208" r="3.2"/><circle cx="1380" cy="1208" r="3.2"/><circle cx="1387" cy="1208" r="3.2"/><circle cx="1369" cy="1215" r="3.2"/><circle cx="1377" cy="1216" r="3.2"/><circle cx="1385" cy="1214" r="3.2"/><circle cx="1372" cy="1219" r="3.2"/><circle cx="1382" cy="1219" r="3.2"/>
<circle cx="1502" cy="1207" r="3.3"/><circle cx="1510" cy="1204" r="3.3"/><circle cx="1518" cy="1204" r="3.3"/><circle cx="1524" cy="1207" r="3.3"/><circle cx="1506" cy="1216" r="3.3"/><circle cx="1515" cy="1218" r="3.3"/><circle cx="1522" cy="1213" r="3.3"/>
<circle cx="1553" cy="1229" r="3.3"/><circle cx="1549" cy="1237" r="3.3"/><circle cx="1558" cy="1239" r="3.3"/><circle cx="1553" cy="1248" r="3.3"/><circle cx="1545" cy="1256" r="3.3"/><circle cx="1561" cy="1256" r="3.3"/>
<circle cx="1595" cy="1185" r="3.3"/><circle cx="1595" cy="1192" r="3.3"/><circle cx="1595" cy="1199" r="3.3"/><circle cx="1589" cy="1209" r="3.3"/><circle cx="1601" cy="1211" r="3.3"/><circle cx="1595" cy="1218" r="3.3"/><circle cx="1589" cy="1232" r="3.3"/><circle cx="1601" cy="1235" r="3.3"/><circle cx="1589" cy="1248" r="3.3"/><circle cx="1595" cy="1255" r="3.3"/><circle cx="1603" cy="1251" r="3.3"/>
</g>
<g font-size="15" text-anchor="end" fill="#444">
<text x="1261" y="1167">1.5</text><text x="1261" y="1214">1.0</text><text x="1261" y="1260">0.5</text><text x="1261" y="1307">0.0</text>
<text x="1479" y="1167">1.5</text><text x="1479" y="1214">1.0</text><text x="1479" y="1260">0.5</text><text x="1479" y="1307">0.0</text>
</g>
<g font-size="17" font-weight="bold" text-anchor="middle">
<text x="1333" y="1175">*</text><text x="1312" y="1197">****</text><text x="1356" y="1197">**</text>
<text x="1552" y="1140">*</text><text x="1531" y="1170">****</text><text x="1573" y="1170">**</text>
</g>
<text x="1226" y="1238" font-size="17" text-anchor="middle" fill="#333" transform="rotate(-90 1226 1232)">FAPs size (FSC)</text>
<text x="1444" y="1233" font-size="17" text-anchor="middle" fill="#333" transform="rotate(-90 1444 1227)">TMRE (MFI)</text>
<g font-size="14" text-anchor="end" fill="#333">
<text x="1295" y="1318" transform="rotate(-45 1295 1313)">CONT</text><text x="1337" y="1318" transform="rotate(-45 1337 1313)">LLC1</text><text x="1379" y="1318" transform="rotate(-45 1379 1313)">LLC1+ActRIIFc</text>
<text x="1515" y="1318" transform="rotate(-45 1515 1313)">CONT</text><text x="1556" y="1318" transform="rotate(-45 1556 1313)">LLC1</text><text x="1597" y="1318" transform="rotate(-45 1597 1313)">LLC1+ActRIIFc</text>
</g>

<!-- ================= FIGURE 2 ================= -->
<text x="69" y="1685" font-size="31" font-weight="bold">A</text>
<rect x="72" y="1698" width="34" height="523" fill="none" stroke="#222" stroke-width="1.5"/>
<text x="89" y="1968" font-size="22" text-anchor="middle" fill="#111" transform="rotate(-90 89 1960)">scRNAseq</text>
<g stroke="#aaa" stroke-width="0.6">
<rect x="113" y="1701" width="17.9" height="17.86" fill="#b9d4e6"/><rect x="130.9" y="1701" width="17.9" height="17.86" fill="#78a8d0"/><rect x="148.8" y="1701" width="17.9" height="17.86" fill="#c84a45"/><rect x="166.7" y="1701" width="17.9" height="17.86" fill="#f7e3d7"/>
<rect x="113" y="1718.86" width="17.9" height="17.86" fill="#4d80bd"/><rect x="130.9" y="1718.86" width="17.9" height="17.86" fill="#d97660"/><rect x="148.8" y="1718.86" width="17.9" height="17.86" fill="#f3f3f5"/><rect x="166.7" y="1718.86" width="17.9" height="17.86" fill="#f5d6c4"/>
<rect x="113" y="1736.72" width="17.9" height="17.86" fill="#f3c9b2"/><rect x="130.9" y="1736.72" width="17.9" height="17.86" fill="#d36b57"/><rect x="148.8" y="1736.72" width="17.9" height="17.86" fill="#5a90c6"/><rect x="166.7" y="1736.72" width="17.9" height="17.86" fill="#bad5e7"/>
<rect x="113" y="1754.58" width="17.9" height="17.86" fill="#f5d5c1"/><rect x="130.9" y="1754.58" width="17.9" height="17.86" fill="#a1c3e0"/><rect x="148.8" y="1754.58" width="17.9" height="17.86" fill="#cc5248"/><rect x="166.7" y="1754.58" width="17.9" height="17.86" fill="#8ab5d8"/>
<rect x="113" y="1772.44" width="17.9" height="17.86" fill="#b5323a"/><rect x="130.9" y="1772.44" width="17.9" height="17.86" fill="#edf1f6"/><rect x="148.8" y="1772.44" width="17.9" height="17.86" fill="#b8d3e6"/><rect x="166.7" y="1772.44" width="17.9" height="17.86" fill="#8db8da"/>
<rect x="113" y="1790.3" width="17.9" height="17.86" fill="#eeb49a"/><rect x="130.9" y="1790.3" width="17.9" height="17.86" fill="#d9775f"/><rect x="148.8" y="1790.3" width="17.9" height="17.86" fill="#b9d4e6"/><rect x="166.7" y="1790.3" width="17.9" height="17.86" fill="#5b8fc6"/>
<rect x="113" y="1808.16" width="17.9" height="17.86" fill="#bbd4e6"/><rect x="130.9" y="1808.16" width="17.9" height="17.86" fill="#b3cfe4"/><rect x="148.8" y="1808.16" width="17.9" height="17.86" fill="#b02a35"/><rect x="166.7" y="1808.16" width="17.9" height="17.86" fill="#cfe0ee"/>
<rect x="113" y="1826.02" width="17.9" height="17.86" fill="#edf1f6"/><rect x="130.9" y="1826.02" width="17.9" height="17.86" fill="#e6eef5"/><rect x="148.8" y="1826.02" width="17.9" height="17.86" fill="#c5453f"/><rect x="166.7" y="1826.02" width="17.9" height="17.86" fill="#5e91c6"/>
<rect x="113" y="1843.88" width="17.9" height="17.86" fill="#e59c80"/><rect x="130.9" y="1843.88" width="17.9" height="17.86" fill="#e29478"/><rect x="148.8" y="1843.88" width="17.9" height="17.86" fill="#bcd5e7"/><rect x="166.7" y="1843.88" width="17.9" height="17.86" fill="#5b8fc6"/>
<rect x="113" y="1861.74" width="17.9" height="17.86" fill="#f4f4f4"/><rect x="130.9" y="1861.74" width="17.9" height="17.86" fill="#dd8670"/><rect x="148.8" y="1861.74" width="17.9" height="17.86" fill="#3d6fb3"/><rect x="166.7" y="1861.74" width="17.9" height="17.86" fill="#f3c9b2"/>
<rect x="113" y="1879.6" width="17.9" height="17.86" fill="#f4f3f2"/><rect x="130.9" y="1879.6" width="17.9" height="17.86" fill="#74a5cf"/><rect x="148.8" y="1879.6" width="17.9" height="17.86" fill="#c0403f"/><rect x="166.7" y="1879.6" width="17.9" height="17.86" fill="#d8e6f0"/>
<rect x="113" y="1897.46" width="17.9" height="17.86" fill="#cf5b4e"/><rect x="130.9" y="1897.46" width="17.9" height="17.86" fill="#f5d5c1"/><rect x="148.8" y="1897.46" width="17.9" height="17.86" fill="#b7d2e6"/><rect x="166.7" y="1897.46" width="17.9" height="17.86" fill="#6b9dcc"/>
<rect x="113" y="1915.32" width="17.9" height="17.86" fill="#efb59b"/><rect x="130.9" y="1915.32" width="17.9" height="17.86" fill="#f2c5ae"/><rect x="148.8" y="1915.32" width="17.9" height="17.86" fill="#f7e7dd"/><rect x="166.7" y="1915.32" width="17.9" height="17.86" fill="#3e70b4"/>
<rect x="113" y="1933.18" width="17.9" height="17.86" fill="#f6d9c8"/><rect x="130.9" y="1933.18" width="17.9" height="17.86" fill="#dfe9f2"/><rect x="148.8" y="1933.18" width="17.9" height="17.86" fill="#d56d58"/><rect x="166.7" y="1933.18" width="17.9" height="17.86" fill="#4a7cba"/>
<rect x="113" y="1951.04" width="17.9" height="17.86" fill="#f6d9c8"/><rect x="130.9" y="1951.04" width="17.9" height="17.86" fill="#f4f1ef"/><rect x="148.8" y="1951.04" width="17.9" height="17.86" fill="#dc826b"/><rect x="166.7" y="1951.04" width="17.9" height="17.86" fill="#4272b5"/>
<rect x="113" y="1968.9" width="17.9" height="17.86" fill="#f3cbb5"/><rect x="130.9" y="1968.9" width="17.9" height="17.86" fill="#d0604f"/><rect x="148.8" y="1968.9" width="17.9" height="17.86" fill="#8ab5d8"/><rect x="166.7" y="1968.9" width="17.9" height="17.86" fill="#a7c7e1"/>
<rect x="113" y="1986.76" width="17.9" height="17.86" fill="#f5d3bf"/><rect x="130.9" y="1986.76" width="17.9" height="17.86" fill="#c3d9ea"/><rect x="148.8" y="1986.76" width="17.9" height="17.86" fill="#d06350"/><rect x="166.7" y="1986.76" width="17.9" height="17.86" fill="#5f92c7"/>
<rect x="113" y="2004.62" width="17.9" height="17.86" fill="#f2c3aa"/><rect x="130.9" y="2004.62" width="17.9" height="17.86" fill="#f3cbb4"/><rect x="148.8" y="2004.62" width="17.9" height="17.86" fill="#f2c7ae"/><rect x="166.7" y="2004.62" width="17.9" height="17.86" fill="#3767ae"/>
<rect x="113" y="2022.48" width="17.9" height="17.86" fill="#eaa88b"/><rect x="130.9" y="2022.48" width="17.9" height="17.86" fill="#e9a386"/><rect x="148.8" y="2022.48" width="17.9" height="17.86" fill="#dce8f1"/><rect x="166.7" y="2022.48" width="17.9" height="17.86" fill="#4c7dbb"/>
<rect x="113" y="2040.34" width="17.9" height="17.86" fill="#f5d2bf"/><rect x="130.9" y="2040.34" width="17.9" height="17.86" fill="#dce8f1"/><rect x="148.8" y="2040.34" width="17.9" height="17.86" fill="#d7735c"/><rect x="166.7" y="2040.34" width="17.9" height="17.86" fill="#4d7ebb"/>
<rect x="113" y="2058.2" width="17.9" height="17.86" fill="#e08c74"/><rect x="130.9" y="2058.2" width="17.9" height="17.86" fill="#f5efec"/><rect x="148.8" y="2058.2" width="17.9" height="17.86" fill="#f4cfba"/><rect x="166.7" y="2058.2" width="17.9" height="17.86" fill="#3f6fb3"/>
<rect x="113" y="2076.06" width="17.9" height="17.86" fill="#eaa98c"/><rect x="130.9" y="2076.06" width="17.9" height="17.86" fill="#e39579"/><rect x="148.8" y="2076.06" width="17.9" height="17.86" fill="#e0eaf2"/><rect x="166.7" y="2076.06" width="17.9" height="17.86" fill="#4676b8"/>
<rect x="113" y="2093.92" width="17.9" height="17.86" fill="#e3907a"/><rect x="130.9" y="2093.92" width="17.9" height="17.86" fill="#e9a386"/><rect x="148.8" y="2093.92" width="17.9" height="17.86" fill="#bdd6e8"/><rect x="166.7" y="2093.92" width="17.9" height="17.86" fill="#5b8fc6"/>
<rect x="113" y="2111.78" width="17.9" height="17.86" fill="#f8e8de"/><rect x="130.9" y="2111.78" width="17.9" height="17.86" fill="#c3443f"/><rect x="148.8" y="2111.78" width="17.9" height="17.86" fill="#a7c7e1"/><rect x="166.7" y="2111.78" width="17.9" height="17.86" fill="#7eaed5"/>
<rect x="113" y="2129.64" width="17.9" height="17.86" fill="#e08b72"/><rect x="130.9" y="2129.64" width="17.9" height="17.86" fill="#f7e0d3"/><rect x="148.8" y="2129.64" width="17.9" height="17.86" fill="#f6dccd"/><rect x="166.7" y="2129.64" width="17.9" height="17.86" fill="#3767ae"/>
<rect x="113" y="2147.5" width="17.9" height="17.86" fill="#5b8fc6"/><rect x="130.9" y="2147.5" width="17.9" height="17.86" fill="#f2c4ab"/><rect x="148.8" y="2147.5" width="17.9" height="17.86" fill="#d06350"/><rect x="166.7" y="2147.5" width="17.9" height="17.86" fill="#bcd5e7"/>
<rect x="113" y="2165.36" width="17.9" height="17.86" fill="#d06350"/><rect x="130.9" y="2165.36" width="17.9" height="17.86" fill="#e6eef5"/><rect x="148.8" y="2165.36" width="17.9" height="17.86" fill="#f7dfd1"/><rect x="166.7" y="2165.36" width="17.9" height="17.86" fill="#4d7ebb"/>
<rect x="113" y="2183.22" width="17.9" height="17.86" fill="#94bcdc"/><rect x="130.9" y="2183.22" width="17.9" height="17.86" fill="#b9343a"/><rect x="148.8" y="2183.22" width="17.9" height="17.86" fill="#94bcdc"/><rect x="166.7" y="2183.22" width="17.9" height="17.86" fill="#f7ebe4"/>
<rect x="113" y="2201.08" width="17.9" height="17.86" fill="#9ec2e0"/><rect x="130.9" y="2201.08" width="17.9" height="17.86" fill="#cde0ee"/><rect x="148.8" y="2201.08" width="17.9" height="17.86" fill="#b02a35"/><rect x="166.7" y="2201.08" width="17.9" height="17.86" fill="#d2e3ef"/>
</g>
<g font-size="12" fill="#222">
<text x="188" y="1714">Cox11</text><text x="188" y="1732">Atp6v1b2</text><text x="188" y="1750">Atp6v1d</text><text x="188" y="1768">Ppa1</text><text x="188" y="1786">Atp6v0a2</text><text x="188" y="1803">Ndufb7</text><text x="188" y="1821">Cox5b</text><text x="188" y="1839">Ndufb6</text><text x="188" y="1857">Ndufv2</text><text x="188" y="1875">Cox7a2l</text><text x="188" y="1893">Atp6v1h</text><text x="188" y="1911">Atp6v0a1</text><text x="188" y="1928">Ndufa3</text><text x="188" y="1946">Lhpp</text><text x="188" y="1964">Cox7a2</text><text x="188" y="1982">Ndufb11</text><text x="188" y="2000">Atp5k</text><text x="188" y="2018">Cox7c</text><text x="188" y="2036">Cox7b</text><text x="188" y="2053">Ndufb9</text><text x="188" y="2071">Ndufb8</text><text x="188" y="2089">Atp6v0e</text><text x="188" y="2107">Atp5g2</text><text x="188" y="2125">Ndufa2</text><text x="188" y="2143">Ndufa13</text><text x="188" y="2161">Ndufc2</text><text x="188" y="2178">Atp6ap1</text><text x="188" y="2196">Cox17</text><text x="188" y="2214">Uqcrq</text>
</g>
<rect x="246" y="1701" width="12" height="179" fill="url(#cbA)"/>
<g font-size="12" fill="#222"><text x="263" y="1734">1</text><text x="263" y="1764">0.5</text><text x="263" y="1794">0</text><text x="263" y="1824">−0.5</text><text x="263" y="1854">−1</text></g>
<g font-size="11" text-anchor="end" fill="#222">
<text x="126" y="2226" transform="rotate(-90 126 2226)">EOM CTR</text><text x="144" y="2226" transform="rotate(-90 144 2226)">EOM LLC1</text><text x="162" y="2226" transform="rotate(-90 162 2226)">TA CTR</text><text x="180" y="2226" transform="rotate(-90 180 2226)">TA LLC1</text>
</g>

<!-- TMRE / MitoTracker histograms -->
<rect x="333" y="1694" width="224" height="43" fill="#fff" stroke="#6b4a2e" stroke-width="2"/>
<text x="445" y="1722" font-size="18" text-anchor="middle" fill="#222">TMRE</text>
<rect x="597" y="1697" width="221" height="40" fill="#fff" stroke="#6b4a2e" stroke-width="2"/>
<text x="708" y="1723" font-size="18" text-anchor="middle" fill="#222">MitoTracker</text>
<path d="M653,1727 q2,-2 4,0 t4,0 t4,0 t4,0 t4,0 t4,0 t4,0 t4,0 t4,0 t4,0 t4,0 t4,0 t4,0 t4,0 t4,0 t4,0 t4,0 t4,0 t4,0 t4,0 t4,0 t4,0 t4,0 t4,0 t4,0 t4,0 t4,0" stroke="#e03030" stroke-width="0.8" fill="none"/>
<rect x="339" y="1744" width="214" height="215" fill="#fff" stroke="#555" stroke-width="1"/>
<rect x="602" y="1744" width="214" height="215" fill="#fff" stroke="#555" stroke-width="1"/>
<g stroke-width="1">
<line x1="339" y1="1831" x2="553" y2="1831" stroke="#6fb3a8"/><line x1="339" y1="1874" x2="553" y2="1874" stroke="#a8cdf0"/><line x1="339" y1="1916" x2="553" y2="1916" stroke="#8a6a50"/>
<line x1="602" y1="1831" x2="816" y2="1831" stroke="#6fb3a8"/><line x1="602" y1="1874" x2="816" y2="1874" stroke="#a8cdf0"/><line x1="602" y1="1916" x2="816" y2="1916" stroke="#8a6a50"/>
</g>
<path d="M429,1831 L440,1829 L450,1823 L460,1810 L470,1795 L480,1775 L487,1758 L492,1752 L498,1753 L503,1770 L508,1795 L513,1820 L518,1831 Z" fill="#bcdcd3" stroke="#2d8a7a" stroke-width="1.2"/>
<path d="M431,1874 L445,1870 L460,1860 L470,1835 L478,1808 L485,1795 L492,1800 L500,1825 L507,1855 L513,1874 Z" fill="#c6ddf6" stroke="#8ab8e8" stroke-width="1.2" opacity="0.95"/>
<path d="M419,1916 L430,1912 L440,1900 L450,1880 L460,1858 L470,1840 L476,1838 L483,1850 L492,1870 L500,1890 L508,1908 L513,1916 Z" fill="#aa9682" stroke="#5e3a1e" stroke-width="1.2"/>
<path d="M436,1959 L445,1950 L452,1930 L458,1900 L463,1880 L468,1885 L474,1910 L482,1940 L490,1959 Z" fill="#f6d6b0" stroke="#f0c08a" stroke-width="1.2" opacity="0.95"/>
<path d="M676,1831 L680,1828 L684,1831 L700,1829 L712,1815 L722,1800 L730,1790 L738,1768 L742,1757 L748,1770 L755,1795 L765,1815 L775,1828 L786,1831 Z" fill="#bcdcd3" stroke="#2d8a7a" stroke-width="1.2"/>
<path d="M693,1874 L700,1860 L708,1840 L715,1815 L722,1801 L728,1815 L735,1840 L745,1860 L755,1870 L767,1874 Z" fill="#c6ddf6" stroke="#8ab8e8" stroke-width="1.2" opacity="0.95"/>
<path d="M670,1916 L678,1905 L686,1880 L693,1850 L699,1841 L706,1848 L713,1870 L722,1890 L732,1905 L743,1916 Z" fill="#aa9682" stroke="#5e3a1e" stroke-width="1.2"/>
<path d="M665,1959 L672,1945 L680,1920 L688,1895 L696,1905 L704,1930 L711,1950 L718,1959 Z" fill="#f6d6b0" stroke="#f0c08a" stroke-width="1.2" opacity="0.95"/>
<g stroke="#333" stroke-width="1">
<path d="M347,1959 V1964 M385,1959 V1964 M422,1959 V1964 M461,1959 V1964 M501,1959 V1964 M540,1959 V1964 M611,1959 V1964 M647,1959 V1964 M685,1959 V1964 M724,1959 V1964 M763,1959 V1964 M804,1959 V1964"/>
</g>
<g font-size="9" text-anchor="middle" fill="#444">
<text x="347" y="1977">10<tspan font-size="6" dy="-4">0</tspan></text><text x="385" y="1977">10<tspan font-size="6" dy="-4">1</tspan></text><text x="422" y="1977">10<tspan font-size="6" dy="-4">2</tspan></text><text x="461" y="1977">10<tspan font-size="6" dy="-4">3</tspan></text><text x="501" y="1977">10<tspan font-size="6" dy="-4">4</tspan></text><text x="540" y="1977">10<tspan font-size="6" dy="-4">5</tspan></text>
<text x="611" y="1977">10<tspan font-size="6" dy="-4">0</tspan></text><text x="647" y="1977">10<tspan font-size="6" dy="-4">1</tspan></text><text x="685" y="1977">10<tspan font-size="6" dy="-4">2</tspan></text><text x="724" y="1977">10<tspan font-size="6" dy="-4">3</tspan></text><text x="763" y="1977">10<tspan font-size="6" dy="-4">4</tspan></text><text x="804" y="1977">10<tspan font-size="6" dy="-4">5</tspan></text>
</g>
<text x="445" y="1995" font-size="8" font-weight="bold" text-anchor="middle">PE-A</text>
<text x="708" y="1995" font-size="8" font-weight="bold" text-anchor="middle">APC-A</text>
<g stroke="#555" stroke-width="1">
<rect x="306" y="1992" width="18" height="16" fill="#5b9bb5"/><rect x="306" y="2015" width="18" height="15" fill="#b8d9ee"/><rect x="306" y="2037" width="18" height="16" fill="#a8877a"/><rect x="306" y="2060" width="18" height="15" fill="#f0b08f"/>
</g>
<g font-size="13" fill="#333"><text x="329" y="2005">EOM CTR</text><text x="329" y="2027">EOM LLC1</text><text x="329" y="2050">TA CTR</text><text x="329" y="2072">TA LLC1</text></g>

<!-- Fig2 bar charts -->
<g stroke="#222" stroke-width="1">
<rect x="400" y="2122" width="23" height="102" fill="#5f9fb8"/><rect x="435" y="2147.5" width="22" height="76.5" fill="#b5d8ee"/><rect x="470" y="2168.9" width="22" height="55.1" fill="#a8857a"/><rect x="504" y="2190.3" width="23" height="33.7" fill="#f0b090"/>
<rect x="654" y="2121" width="23" height="101" fill="#5f9fb8"/><rect x="689" y="2142.2" width="23" height="79.8" fill="#b5d8ee"/><rect x="724" y="2194.7" width="22" height="27.3" fill="#a8857a"/><rect x="759" y="2204.8" width="23" height="17.2" fill="#f0b090"/>
</g>
<g stroke="#222" stroke-width="1.5" fill="none">
<path d="M386,2081 V2224 H538 M381,2122 H386 M381,2173 H386 M381,2224 H386 M411.5,2224 V2229 M446,2224 V2229 M481,2224 V2229 M515.5,2224 V2229"/>
<path d="M642,2069 V2222 H793 M637,2070.5 H642 M637,2121 H642 M637,2171.5 H642 M637,2222 H642 M665.5,2222 V2227 M700.5,2222 V2227 M735,2222 V2227 M770.5,2222 V2227"/>
<path d="M411,2097 V2090 H445 V2097 M411,2083 V2052 H481 V2066 M481,2077 V2070 H516 V2144"/>
<path d="M665,2081 V2072 H736 V2153 M665,2102 V2092 H699 V2102 M736,2170 V2163 H779 V2188"/>
<path d="M411.5,2134.2 V2106.7 M407,2106.7 H416 M446,2157 V2137 M442,2137 H450 M481,2183 V2154.6 M477,2154.6 H485 M477,2183 H485 M515.5,2198.5 V2181 M511,2181 H520"/>
<path d="M665.5,2133 V2108.9 M661,2108.9 H670 M700.5,2161.4 V2123 M696,2123 H705 M735,2197.8 V2191.7 M770.5,2209.9 V2199.8"/>
</g>
<g fill="#111">
<circle cx="411" cy="2088" r="2.8"/><circle cx="405" cy="2112" r="2.8"/><circle cx="411" cy="2112" r="2.8"/><circle cx="418" cy="2112" r="2.8"/><circle cx="404" cy="2117" r="2.8"/><circle cx="411" cy="2122" r="2.8"/><circle cx="418" cy="2124" r="2.8"/><circle cx="406" cy="2127" r="2.8"/><circle cx="416" cy="2132" r="2.8"/><circle cx="404" cy="2137" r="2.8"/><circle cx="411" cy="2142" r="2.8"/><circle cx="418" cy="2144" r="2.8"/><circle cx="411" cy="2148" r="2.8"/>
<circle cx="452" cy="2134" r="2.8"/><circle cx="445" cy="2135" r="2.8"/><circle cx="439" cy="2137" r="2.8"/><circle cx="452" cy="2142" r="2.8"/><circle cx="440" cy="2144" r="2.8"/><circle cx="447" cy="2148" r="2.8"/><circle cx="441" cy="2151" r="2.8"/><circle cx="452" cy="2155" r="2.8"/><circle cx="444" cy="2158" r="2.8"/><circle cx="448" cy="2163" r="2.8"/>
<circle cx="476" cy="2140" r="2.8"/><circle cx="485" cy="2140" r="2.8"/><circle cx="481" cy="2153" r="2.8"/><circle cx="474" cy="2158" r="2.8"/><circle cx="488" cy="2163" r="2.8"/><circle cx="478" cy="2168" r="2.8"/><circle cx="486" cy="2173" r="2.8"/><circle cx="474" cy="2178" r="2.8"/><circle cx="483" cy="2183" r="2.8"/><circle cx="476" cy="2188" r="2.8"/><circle cx="486" cy="2193" r="2.8"/><circle cx="481" cy="2198" r="2.8"/>
<circle cx="509" cy="2173" r="2.8"/><circle cx="522" cy="2175" r="2.8"/><circle cx="515" cy="2178" r="2.8"/><circle cx="508" cy="2181" r="2.8"/><circle cx="520" cy="2185" r="2.8"/><circle cx="513" cy="2188" r="2.8"/><circle cx="508" cy="2193" r="2.8"/><circle cx="521" cy="2198" r="2.8"/><circle cx="512" cy="2202" r="2.8"/><circle cx="519" cy="2204" r="2.8"/>
<circle cx="665" cy="2108" r="2.8"/><circle cx="658" cy="2116" r="2.8"/><circle cx="672" cy="2118" r="2.8"/><circle cx="665" cy="2123" r="2.8"/><circle cx="659" cy="2131" r="2.8"/><circle cx="672" cy="2133" r="2.8"/>
<circle cx="695" cy="2123" r="2.8"/><circle cx="706" cy="2123" r="2.8"/><circle cx="700" cy="2143" r="2.8"/><circle cx="693" cy="2146" r="2.8"/><circle cx="707" cy="2153" r="2.8"/><circle cx="700" cy="2161" r="2.8"/>
<circle cx="735" cy="2189" r="2.8"/><circle cx="728" cy="2194" r="2.8"/><circle cx="742" cy="2195" r="2.8"/><circle cx="731" cy="2195" r="2.8"/><circle cx="739" cy="2196" r="2.8"/>
<circle cx="770" cy="2197" r="2.8"/><circle cx="763" cy="2200" r="2.8"/><circle cx="777" cy="2202" r="2.8"/><circle cx="766" cy="2206" r="2.8"/><circle cx="775" cy="2210" r="2.8"/><circle cx="768" cy="2214" r="2.8"/>
</g>
<g font-size="11" font-weight="bold" text-anchor="end" fill="#111">
<text x="380" y="2126">1.0</text><text x="380" y="2177">0.5</text><text x="380" y="2228">0.0</text>
<text x="636" y="2075">1.5</text><text x="636" y="2125">1.0</text><text x="636" y="2176">0.5</text><text x="636" y="2226">0.0</text>
</g>
<g font-size="14" font-weight="bold" text-anchor="middle">
<text x="428" y="2089">***</text><text x="446" y="2050">****</text><text x="498" y="2069">**</text>
<text x="700" y="2069">****</text><text x="682" y="2090">****</text><text x="757" y="2160">*</text>
</g>
<text x="349" y="2152" font-size="12" font-weight="bold" text-anchor="middle" transform="rotate(-90 349 2148)">Fold change</text>
<text x="604" y="2152" font-size="12" font-weight="bold" text-anchor="middle" transform="rotate(-90 604 2148)">Fold change</text>

<!-- Fig 2 B -->
<text x="859" y="1686" font-size="31" font-weight="bold">B</text>
<rect x="856" y="1697" width="385" height="30" fill="#fff" stroke="#555" stroke-width="1.5"/>
<rect x="1243" y="1697" width="384" height="30" fill="#fff" stroke="#555" stroke-width="1.5"/>
<text x="1048" y="1718" font-size="15" text-anchor="middle" fill="#222" textLength="146" lengthAdjust="spacingAndGlyphs">EOM LLC1vsEOM CTR</text>
<text x="1435" y="1718" font-size="15" text-anchor="middle" fill="#222" textLength="116" lengthAdjust="spacingAndGlyphs">TA LLC1vsTA CTR</text>
<rect x="1196" y="1733" width="44" height="194" fill="#f2f2f2" stroke="#999" stroke-width="1"/>
<rect x="1244" y="1733" width="42" height="194" fill="#f2f2f2" stroke="#999" stroke-width="1"/>
<g stroke="#fff" stroke-width="1"><path d="M1207,1733 V1927 M1228,1733 V1927 M1256,1733 V1927 M1275,1733 V1927"/></g>
<g font-size="6.3" fill="#555" text-anchor="end">
<text x="1193" y="1741">GO:0051085~chaperone mediated protein folding requiring cofactor</text>
<text x="1193" y="1751">GO:0045944~positive regulation of transcription from RNA polymerase II promoter</text>
<text x="1193" y="1760">GO:0043066~negative regulation of apoptotic process</text>
<text x="1193" y="1770">GO:0042274~ribosomal small subunit biogenesis</text>
<text x="1193" y="1779">GO:0042026~protein refolding</text>
<text x="1193" y="1789">GO:0031100~animal organ regeneration</text>
<text x="1193" y="1798">GO:0030199~collagen fibril organization</text>
<text x="1193" y="1808">GO:0010628~positive regulation of gene expression</text>
<text x="1193" y="1818">GO:0009612~response to mechanical stimulus</text>
<text x="1193" y="1827">GO:0009410~response to xenobiotic stimulus</text>
<text x="1193" y="1837">GO:0008380~RNA splicing</text>
<text x="1193" y="1846">GO:0006457~protein folding</text>
<text x="1193" y="1856">GO:0006412~translation</text>
<text x="1193" y="1866">GO:0006364~rRNA processing</text>
<text x="1193" y="1875">GO:0006122~mitochondrial electron transport, ubiquinol to cytochrome c</text>
<text x="1193" y="1885">GO:0006099~tricarboxylic acid cycle</text>
<text x="1193" y="1894">GO:0003151~outflow tract morphogenesis</text>
<text x="1193" y="1904">GO:0002181~cytoplasmic translation</text>
<text x="1193" y="1914">GO:0001666~response to hypoxia</text>
<text x="1193" y="1923">GO:0000028~ribosomal small subunit assembly</text>
</g>
<g font-size="6.3" fill="#555">
<text x="1290" y="1741">GO:1901798~positive regulation of signal transduction by p53 class mediator</text>
<text x="1290" y="1751">GO:0045944~positive regulation of transcription from RNA polymerase II promoter</text>
<text x="1290" y="1760">GO:0042776~mitochondrial ATP synthesis coupled proton transport</text>
<text x="1290" y="1770">GO:0042274~ribosomal small subunit biogenesis</text>
<text x="1290" y="1779">GO:0042254~ribosome biogenesis</text>
<text x="1290" y="1789">GO:0042026~protein refolding</text>
<text x="1290" y="1798">GO:0032981~mitochondrial respiratory chain complex I assembly</text>
<text x="1290" y="1808">GO:0010628~positive regulation of gene expression</text>
<text x="1290" y="1818">GO:0009060~aerobic respiration</text>
<text x="1290" y="1827">GO:0008380~RNA splicing</text>
<text x="1290" y="1837">GO:0006915~apoptotic process</text>
<text x="1290" y="1846">GO:0006457~protein folding</text>
<text x="1290" y="1856">GO:0006412~translation</text>
<text x="1290" y="1866">GO:0006397~mRNA processing</text>
<text x="1290" y="1875">GO:0006364~rRNA processing</text>
<text x="1290" y="1885">GO:0006122~mitochondrial electron transport, ubiquinol to cytochrome c</text>
<text x="1290" y="1894">GO:0006120~mitochondrial electron transport, NADH to ubiquinone</text>
<text x="1290" y="1904">GO:0002181~cytoplasmic translation</text>
<text x="1290" y="1914">GO:0000122~negative regulation of transcription from RNA polymerase II promoter</text>
<text x="1290" y="1923">GO:0000028~ribosomal small subunit assembly</text>
</g>
<g>
<circle cx="1207" cy="1739" r="2" fill="#8b1a10"/><circle cx="1207" cy="1748.6" r="4.5" fill="#c33a22"/><circle cx="1228" cy="1758.2" r="4.5" fill="#d8402a"/><circle cx="1228" cy="1767.7" r="4.5" fill="#8b1a10"/><circle cx="1207" cy="1777.3" r="2" fill="#8b1a10"/><circle cx="1228" cy="1786.9" r="2" fill="#a02414"/><circle cx="1207" cy="1796.5" r="2" fill="#d8402a"/><circle cx="1228" cy="1806.1" r="4.5" fill="#d8402a"/><circle cx="1207" cy="1815.6" r="2" fill="#8b1a10"/><circle cx="1207" cy="1825.2" r="3" fill="#8b1a10"/><circle cx="1207" cy="1834.8" r="3" fill="#8b1a10"/><circle cx="1207" cy="1844.4" r="3" fill="#8b1a10"/><circle cx="1228" cy="1854" r="5.5" fill="#8b1a10"/><circle cx="1228" cy="1863.5" r="3" fill="#8b1a10"/><circle cx="1207" cy="1873.1" r="1.2" fill="#b02a18"/><circle cx="1207" cy="1882.7" r="1.2" fill="#b02a18"/><circle cx="1228" cy="1892.3" r="2" fill="#d8402a"/><circle cx="1228" cy="1901.9" r="5.5" fill="#8b1a10"/><circle cx="1228" cy="1911.4" r="3" fill="#8b1a10"/><circle cx="1228" cy="1921" r="3" fill="#8b1a10"/>
<circle cx="1275" cy="1739" r="2" fill="#8b1a10"/><circle cx="1275" cy="1748.6" r="4.5" fill="#8b1a10"/><circle cx="1256" cy="1758.2" r="2.5" fill="#8b1a10"/><circle cx="1275" cy="1767.7" r="3" fill="#8b1a10"/><circle cx="1256" cy="1777.3" r="2.5" fill="#8b1a10"/><circle cx="1256" cy="1786.9" r="1.5" fill="#8b1a10"/><circle cx="1256" cy="1796.5" r="2.5" fill="#8b1a10"/><circle cx="1275" cy="1806.1" r="3.5" fill="#c33a22"/><circle cx="1256" cy="1815.6" r="2.5" fill="#8b1a10"/><circle cx="1256" cy="1825.2" r="3" fill="#8b1a10"/><circle cx="1275" cy="1834.8" r="3.5" fill="#e0452c"/><circle cx="1256" cy="1844.4" r="2.5" fill="#8b1a10"/><circle cx="1275" cy="1854" r="5" fill="#8b1a10"/><circle cx="1256" cy="1863.5" r="3" fill="#8b1a10"/><circle cx="1275" cy="1873.1" r="3" fill="#8b1a10"/><circle cx="1256" cy="1882.7" r="1.2" fill="#8b1a10"/><circle cx="1256" cy="1892.3" r="1.5" fill="#8b1a10"/><circle cx="1275" cy="1901.9" r="5.5" fill="#8b1a10"/><circle cx="1275" cy="1911.4" r="5" fill="#8b1a10"/><circle cx="1275" cy="1921" r="2.5" fill="#8b1a10"/>
</g>
<g stroke="#d93a2a" stroke-width="1.5" fill="#d93a2a">
<line x1="947" y1="1873" x2="963" y2="1873"/><polygon points="966,1873 961,1870.5 961,1875.5" stroke="none"/>
<line x1="1056" y1="1883" x2="1072" y2="1883"/><polygon points="1075,1883 1070,1880.5 1070,1885.5" stroke="none"/>
<line x1="1503" y1="1758" x2="1520" y2="1758"/><polygon points="1500,1758 1505,1755.5 1505,1760.5" stroke="none"/>
<line x1="1496" y1="1796" x2="1513" y2="1796"/><polygon points="1493,1796 1498,1793.5 1498,1798.5" stroke="none"/>
<line x1="1397" y1="1816" x2="1414" y2="1816"/><polygon points="1394,1816 1399,1813.5 1399,1818.5" stroke="none"/>
<line x1="1518" y1="1883" x2="1535" y2="1883"/><polygon points="1515,1883 1520,1880.5 1520,1885.5" stroke="none"/>
<line x1="1503" y1="1893" x2="1520" y2="1893"/><polygon points="1500,1893 1505,1890.5 1505,1895.5" stroke="none"/>
</g>
<g font-size="7" fill="#555" text-anchor="middle"><text x="1207" y="1936">DOWN</text><text x="1228" y="1936">UP</text><text x="1256" y="1936">DOWN</text><text x="1275" y="1936">UP</text></g>
<text x="1244" y="1952" font-size="8" text-anchor="middle" fill="#444">REGULATION</text>
<text x="866" y="1740" font-size="8" fill="#444">p-value</text>
<rect x="866" y="1745" width="14" height="67" fill="url(#cbP)"/>
<g font-size="6" fill="#444"><text x="885" y="1752">4e-04</text><text x="885" y="1767">3e-04</text><text x="885" y="1783">2e-04</text><text x="885" y="1798">1e-04</text></g>
<text x="866" y="1826" font-size="8" fill="#444">Gene Ratio (%)</text>
<circle cx="877" cy="1836" r="2.5" fill="#111"/><text x="885" y="1838" font-size="6" fill="#444">5</text>
<circle cx="877" cy="1849" r="3.5" fill="#111"/><text x="885" y="1851" font-size="6" fill="#444">10</text>
<text x="1566" y="1743" font-size="8" fill="#444">p-value</text>
<rect x="1566" y="1748" width="14" height="66" fill="url(#cbP)"/>
<g font-size="6" fill="#444"><text x="1584" y="1769">2e-06</text><text x="1584" y="1793">1e-06</text></g>
<text x="1566" y="1830" font-size="8" fill="#444">Gene Ratio (%)</text>
<circle cx="1573" cy="1840" r="2.5" fill="#111"/><text x="1582" y="1842" font-size="6" fill="#444">5</text>
<circle cx="1573" cy="1853" r="3.5" fill="#111"/><text x="1582" y="1855" font-size="6" fill="#444">10</text>
<circle cx="1573" cy="1867" r="4.5" fill="#111"/><text x="1582" y="1869" font-size="6" fill="#444">15</text>

<!-- Fig 2 C -->
<text x="859" y="1977" font-size="31" font-weight="bold">C</text>
<text x="1279" y="1977" font-size="31" font-weight="bold">D</text>
<g stroke="#222" stroke-width="1.5" fill="none">
<path d="M941,1985 V2087 H1235"/>
<path d="M936,2001 H941 M936,2024 H941 M936,2048 H941 M936,2072 H941 M961,2087 V2092 M992,2087 V2092 M1024,2087 V2092 M1056,2087 V2092 M1088,2087 V2092 M1120,2087 V2092 M1151,2087 V2092 M1184,2087 V2092 M1216,2087 V2092"/>
</g>
<g font-size="16" text-anchor="end" fill="#222">
<text x="934" y="2007" textLength="74" lengthAdjust="spacingAndGlyphs">EOM CTR</text>
<text x="934" y="2030" textLength="79" lengthAdjust="spacingAndGlyphs">EOM LLC1</text>
<text x="934" y="2054" textLength="58" lengthAdjust="spacingAndGlyphs">TA CTR</text>
<text x="934" y="2078" textLength="63" lengthAdjust="spacingAndGlyphs">TA LLC1</text>
</g>
<g stroke="#333" stroke-width="1">
<circle cx="961" cy="2001" r="6.5" fill="#e5b8a8"/><circle cx="992" cy="2001" r="4.5" fill="#d9a08c"/><circle cx="1024" cy="2001" r="4.5" fill="#f0d8cf"/><circle cx="1056" cy="2001" r="6" fill="#c8806a"/><circle cx="1088" cy="2001" r="3.5" fill="#a84a35"/><circle cx="1120" cy="2001" r="1.8" fill="#8b2010"/><circle cx="1151" cy="2001" r="5" fill="#8f2a1a"/><circle cx="1184" cy="2001" r="6" fill="#a84a35"/><circle cx="1216" cy="2001" r="8.5" fill="#cf8c78"/>
<circle cx="961" cy="2024" r="6.5" fill="#a9452f"/><circle cx="992" cy="2024" r="4.5" fill="#861c0c"/><circle cx="1024" cy="2024" r="5" fill="#b4604a"/><circle cx="1056" cy="2024" r="6" fill="#ffffff"/><circle cx="1088" cy="2024" r="3.5" fill="#8f2a1a"/><circle cx="1120" cy="2024" r="1.5" fill="#8f2a1a"/><circle cx="1151" cy="2024" r="4" fill="#bb6a55"/><circle cx="1184" cy="2024" r="6" fill="#962f1f"/><circle cx="1216" cy="2024" r="8.5" fill="#9b3622"/>
<circle cx="961" cy="2048" r="6.5" fill="#f8e6e0"/><circle cx="992" cy="2048" r="4.5" fill="#d9a08c"/><circle cx="1024" cy="2048" r="4.5" fill="#efd0c5"/><circle cx="1056" cy="2048" r="6" fill="#a4412b"/><circle cx="1088" cy="2048" r="2.5" fill="#e8c0b3"/><circle cx="1120" cy="2048" r="1.2" fill="#c06c58"/><circle cx="1151" cy="2048" r="4" fill="#cf8c78"/><circle cx="1184" cy="2048" r="6" fill="#fbf2ef"/><circle cx="1216" cy="2048" r="8.5" fill="#fdfafa"/>
<circle cx="961" cy="2072" r="6.5" fill="#9b3622"/><circle cx="992" cy="2072" r="4" fill="#f0d0c6"/><circle cx="1024" cy="2072" r="5" fill="#8b2010"/><circle cx="1056" cy="2072" r="6" fill="#ac4e38"/><circle cx="1088" cy="2072" r="2.5" fill="#e0b0a2"/><circle cx="1120" cy="2072" r="1" fill="#cf8c78"/><circle cx="1151" cy="2072" r="3" fill="#f5e4de"/><circle cx="1184" cy="2072" r="5.5" fill="#d99e8c"/><circle cx="1216" cy="2072" r="8.5" fill="#b55a44"/>
</g>
<g font-size="17" font-style="italic" text-anchor="end" fill="#222">
<text x="965" y="2102" transform="rotate(-45 965 2097)">Gabarap</text><text x="996" y="2102" transform="rotate(-45 996 2097)">Gabarapl2</text><text x="1028" y="2102" transform="rotate(-45 1028 2097)">Map1lc3b</text><text x="1060" y="2102" transform="rotate(-45 1060 2097)">Sqstm1</text><text x="1092" y="2102" transform="rotate(-45 1092 2097)">Atp6ap2</text><text x="1124" y="2102" transform="rotate(-45 1124 2097)">Ctsd</text><text x="1155" y="2102" transform="rotate(-45 1155 2097)">Lamp1</text><text x="1188" y="2102" transform="rotate(-45 1188 2097)">Lamp2</text><text x="1220" y="2102" transform="rotate(-45 1220 2097)">Cd63</text>
</g>
<text x="950" y="2178" font-size="12" fill="#222" textLength="111" lengthAdjust="spacingAndGlyphs">Percent Expressed</text>
<circle cx="959" cy="2198" r="2" fill="#111"/><text x="979" y="2203" font-size="12" fill="#222">40</text>
<circle cx="959" cy="2217" r="3.5" fill="#111"/><text x="979" y="2222" font-size="12" fill="#222">60</text>
<circle cx="959" cy="2236" r="5" fill="#111"/><text x="979" y="2241" font-size="12" fill="#222">80</text>
<text x="1093" y="2180" font-size="12" fill="#222" textLength="119" lengthAdjust="spacingAndGlyphs">Average Expression</text>
<rect x="1095" y="2190" width="18" height="92" fill="url(#cbC)"/>
<g font-size="12" fill="#222"><text x="1120" y="2209">1.0</text><text x="1120" y="2226">0.5</text><text x="1120" y="2242">0.0</text><text x="1120" y="2258">-0.5</text><text x="1120" y="2274">-1.0</text></g>

<!-- Fig 2 D UMAP -->
<rect x="1276" y="1989" width="360" height="269" fill="#fff" stroke="#999" stroke-width="1.5"/>
<polygon points="1292,2010 1320,2005 1345,2010 1360,2022 1385,2020 1410,2030 1417,2055 1410,2075 1408,2100 1400,2115 1375,2118 1370,2128 1355,2120 1340,2110 1325,2108 1318,2090 1312,2070 1300,2045 1291,2025" fill="#e6a088" opacity="0.82"/>
<polygon points="1512,2003 1540,2000 1575,2005 1600,2015 1618,2030 1620,2060 1610,2090 1605,2115 1590,2130 1570,2140 1555,2150 1540,2140 1525,2120 1515,2100 1510,2070 1508,2040 1507,2020" fill="#9c7266" opacity="0.85"/>
<polygon points="1405,2183 1440,2178 1455,2185 1462,2200 1445,2210 1420,2215 1400,2220 1392,2205" fill="#a8d0ea"/>
<polygon points="1392,2220 1420,2212 1450,2200 1470,2195 1480,2205 1478,2225 1460,2238 1430,2245 1400,2246 1388,2235" fill="#4f93ab"/>
<text x="1262" y="2126" font-size="9" text-anchor="middle" fill="#333" transform="rotate(-90 1262 2123)">UMAP2</text>
<text x="1455" y="2273" font-size="9" text-anchor="middle" fill="#333">UMAP1</text>
<g stroke="#777" stroke-width="0.8">
<rect x="1534" y="2185" width="15" height="14" fill="#4a8fa8"/><rect x="1534" y="2200" width="15" height="14" fill="#a8d4ee"/><rect x="1534" y="2215" width="15" height="14" fill="#8f6a5e"/><rect x="1534" y="2230" width="15" height="14" fill="#e49a7c"/>
</g>
<g font-size="11" fill="#222"><text x="1555" y="2196" textLength="40" lengthAdjust="spacingAndGlyphs">EOM CTR</text><text x="1555" y="2211" textLength="43" lengthAdjust="spacingAndGlyphs">EOM LLC1</text><text x="1555" y="2226" textLength="31" lengthAdjust="spacingAndGlyphs">TA CTR</text><text x="1555" y="2241" textLength="34" lengthAdjust="spacingAndGlyphs">TA LLC1</text></g>
</svg>

<div class="cap" style="top:1401px;"><b>Figure 1: Perturbations of limb muscle stem / differentiated cells after tumor development at distal site.</b> A) Representative image and
quantification of MuSCs (mGFP<span class="sp">+</span>) size in control and cachexia <i>Pax7<span class="sp">CreERT2</span>:R26<span class="sp">mTmG</span></i> limb cryosections. Anti-GFP antibody staining shows smaller MuSCs
in cachexia, with shorter membrane extensions (n=2 cont, n=3 cach.); B) Heat map of genes of MuSC quiescence; pseudo bulk scRNAseq of Pax7-
nGFP+ MuSCs of 25 days PBS or LLC1 injected mice; C) Quantification by RT-qPCR of genes expressed in freshly isolated Pax7-nGFP MuSCs from
control or cachexia mice, 25 days after LLC1 cells injection; MuSCs isolated from <i>Tg:Pax7-nGFP</i> mice at 30h post-injury of limb muscle following 2
injections of EdU. Note delayed cell cycle entry of cachexia MuSCs and lower cyclin D1 expression (E). (F-H) compromised metabolism in cachexia
MuSCs by scRNAseq of Oxphos genes (F), lower mitochondrial activity and mass (G), lower mitochondrial stress response (H). (I-K) Rescue of some
parameters of cachexia phenotypes following block of activin signaling using anti-ActRIIFc antibody for MuSCs (J) and FAPS (K).</div>

<div class="cap" style="top:2292px;"><span class="b2">Figure 2: Differential response of extraocular and limb muscle stem/differentiated cells to cachexia at a distal site.</span> A) Limb MuSC oxphos
activity more downregulated than in EOM. Note also TMRE/Mitotracker features lower in limb MuSCs than EOM by FACs and quantifications and more
affected in cachexia; B) Gene ontology of scRNAseq of EOM and limb (TA) muscle quiescent MuSCs in control and cachectic mice. Cachectic limb
qMuSCs show more downregulation of mito metabolism compared to EOM; C) Dotplot of expression key genes of autophagy in EOM and TA quiescent
MuSCs from control and LLC1 tumor-bearing mice. TA qMuSCs have higher expression of autophagosomes markers following cachexia (from Gaparap
to Sqstm1); instead, EOM qMuSCs express already at steady state higher levels of lysosomal markers (from Atp6ap2 to CD63), most further
upregulated in cachexia; D) UMAP obtained by the subclustering of the Myonuclei population in the four conditions following single nuclear RNAseq.
EOM myonuclei cluster closer to each other compared to those in limb (TA), transcriptome of limb myonuclei is altered more dramatically than those in
the EOM. Overall extraocular stem and differentiated cells show more resistant features to cancer cachexia compared to those in the limb. Mechanistic
studies ongoing.H</div>
</div></body></html>
